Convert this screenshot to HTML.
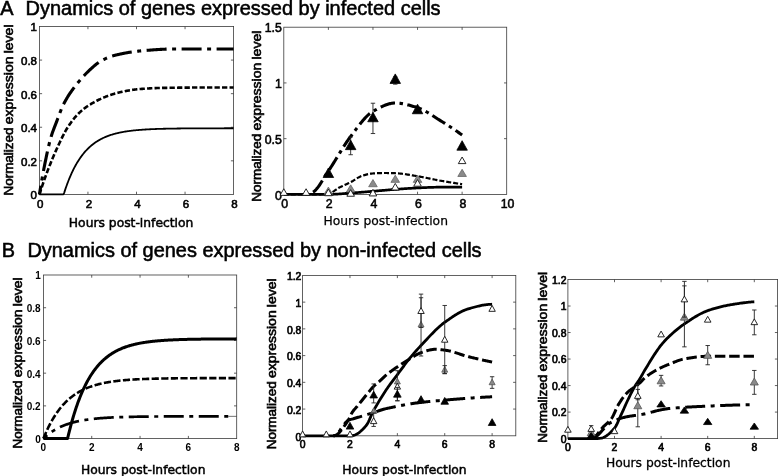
<!DOCTYPE html>
<html><head><meta charset="utf-8"><title>Dynamics of genes</title>
<style>html,body{margin:0;padding:0;background:#fff}svg{display:block}</style></head>
<body><svg width="778" height="476" viewBox="0 0 778 476">
<rect width="778" height="476" fill="#fff"/>
<defs><filter id="soft" x="0" y="0" width="778" height="476" filterUnits="userSpaceOnUse"><feGaussianBlur stdDeviation="0.38"/></filter></defs>
<g filter="url(#soft)">
<text x="0.3" y="14.8" font-family="Liberation Sans, sans-serif" font-size="19.9" stroke="#000" stroke-width="0.55">A</text>
<text x="25.6" y="14.8" font-family="Liberation Sans, sans-serif" font-size="19.9" stroke="#000" stroke-width="0.55" textLength="415" lengthAdjust="spacingAndGlyphs">Dynamics of genes expressed by infected cells</text>
<text x="1.8" y="256.6" font-family="Liberation Sans, sans-serif" font-size="19.9" stroke="#000" stroke-width="0.55">B</text>
<text x="27.4" y="256.6" font-family="Liberation Sans, sans-serif" font-size="19.9" stroke="#000" stroke-width="0.55" textLength="454.2" lengthAdjust="spacingAndGlyphs">Dynamics of genes expressed by non-infected cells</text>
<rect x="39.40" y="26.50" width="194.20" height="167.90" fill="#fff" stroke="#3a3a3a" stroke-width="0.8"/>
<path d="M87.95 194.40v-2.7M87.95 26.50v2.7M136.50 194.40v-2.7M136.50 26.50v2.7M185.05 194.40v-2.7M185.05 26.50v2.7M39.40 160.82h2.7M233.60 160.82h-2.7M39.40 127.24h2.7M233.60 127.24h-2.7M39.40 93.66h2.7M233.60 93.66h-2.7M39.40 60.08h2.7M233.60 60.08h-2.7" stroke="#3a3a3a" stroke-width="0.8" fill="none"/>
<g font-family="Liberation Sans, sans-serif" font-size="11.5" font-weight="normal" fill="#000" stroke="#000" stroke-width="0.6">
<text x="40.30" y="208.10" text-anchor="middle">0</text>
<text x="88.85" y="208.10" text-anchor="middle">2</text>
<text x="137.40" y="208.10" text-anchor="middle">4</text>
<text x="185.95" y="208.10" text-anchor="middle">6</text>
<text x="234.50" y="208.10" text-anchor="middle">8</text>
<text x="37.00" y="199.34" text-anchor="end">0</text>
<text x="37.00" y="165.76" text-anchor="end">0.2</text>
<text x="37.00" y="132.18" text-anchor="end">0.4</text>
<text x="37.00" y="98.60" text-anchor="end">0.6</text>
<text x="37.00" y="65.02" text-anchor="end">0.8</text>
<text x="37.00" y="31.44" text-anchor="end">1</text>
</g>
<polyline points="39.40,194.40 39.89,191.42 40.37,188.48 40.86,185.60 41.35,182.76 41.83,179.97 42.32,177.24 42.81,174.55 43.29,171.92 43.78,169.34 44.27,166.82 44.75,164.35 45.24,161.93 45.73,159.57 46.21,157.22 46.70,154.90 47.19,152.62 47.67,150.38 48.16,148.19 48.65,146.07 49.13,144.03 49.62,142.08 50.11,140.22 50.59,138.47 51.08,136.83 51.57,135.28 52.05,133.79 52.54,132.36 53.03,130.99 53.51,129.66 54.00,128.36 54.49,127.10 54.97,125.85 55.46,124.61 55.95,123.37 56.44,122.12 56.92,120.86 57.41,119.57 57.90,118.26 58.38,116.95 58.87,115.63 59.36,114.32 59.84,113.01 60.33,111.73 60.82,110.48 61.30,109.25 61.79,108.07 62.28,106.94 62.76,105.86 63.25,104.84 63.74,103.88 64.22,102.95 64.71,102.04 65.20,101.14 65.68,100.27 66.17,99.42 66.66,98.59 67.14,97.77 67.63,96.97 68.12,96.19 68.60,95.43 69.09,94.67 69.58,93.94 70.06,93.21 70.55,92.50 71.04,91.80 71.52,91.11 72.01,90.43 72.50,89.76 72.98,89.09 73.47,88.44 73.96,87.79 74.44,87.15 74.93,86.51 75.42,85.88 75.90,85.25 76.39,84.64 76.88,84.02 77.36,83.42 77.85,82.81 78.34,82.22 78.82,81.63 79.31,81.05 79.80,80.47 80.28,79.90 80.77,79.33 81.26,78.77 81.74,78.22 82.23,77.67 82.72,77.13 83.20,76.59 83.69,76.06 84.18,75.54 84.66,75.02 85.15,74.50 85.64,74.00 86.12,73.50 86.61,73.00 87.10,72.51 87.58,72.03 88.07,71.55 88.56,71.08 89.05,70.61 89.53,70.15 90.02,69.69 90.51,69.24 90.99,68.80 91.48,68.36 91.97,67.92 92.45,67.49 92.94,67.05 93.43,66.62 93.91,66.20 94.40,65.77 94.89,65.36 95.37,64.95 95.86,64.55 96.35,64.15 96.83,63.77 97.32,63.39 97.81,63.03 98.29,62.67 98.78,62.33 99.27,62.00 99.75,61.69 100.24,61.39 100.73,61.10 101.21,60.84 101.70,60.57 102.19,60.32 102.67,60.06 103.16,59.81 103.65,59.57 104.13,59.33 104.62,59.09 105.11,58.86 105.59,58.64 106.08,58.42 106.57,58.20 107.05,57.99 107.54,57.78 108.03,57.58 108.51,57.38 109.00,57.19 109.49,57.01 109.97,56.83 110.46,56.65 110.95,56.48 111.43,56.32 111.92,56.16 112.41,56.01 112.89,55.86 113.38,55.72 113.87,55.58 114.35,55.45 114.84,55.33 115.33,55.21 115.81,55.09 116.30,54.97 116.79,54.86 117.27,54.74 117.76,54.63 118.25,54.52 118.73,54.40 119.22,54.29 119.71,54.19 120.19,54.08 120.68,53.97 121.17,53.87 121.66,53.77 122.14,53.67 122.63,53.57 123.12,53.47 123.60,53.37 124.09,53.28 124.58,53.18 125.06,53.09 125.55,53.00 126.04,52.91 126.52,52.82 127.01,52.74 127.50,52.65 127.98,52.57 128.47,52.48 128.96,52.40 129.44,52.32 129.93,52.25 130.42,52.17 130.90,52.10 131.39,52.02 131.88,51.95 132.36,51.88 132.85,51.81 133.34,51.74 133.82,51.68 134.31,51.61 134.80,51.55 135.28,51.49 135.77,51.43 136.26,51.37 136.74,51.31 137.23,51.26 137.72,51.20 138.20,51.15 138.69,51.10 139.18,51.05 139.66,51.00 140.15,50.95 140.64,50.91 141.12,50.87 141.61,50.82 142.10,50.78 142.58,50.74 143.07,50.70 143.56,50.66 144.04,50.61 144.53,50.57 145.02,50.53 145.50,50.49 145.99,50.45 146.48,50.41 146.96,50.37 147.45,50.33 147.94,50.29 148.42,50.25 148.91,50.21 149.40,50.17 149.88,50.13 150.37,50.09 150.86,50.05 151.34,50.01 151.83,49.98 152.32,49.94 152.81,49.90 153.29,49.87 153.78,49.83 154.27,49.80 154.75,49.76 155.24,49.73 155.73,49.70 156.21,49.66 156.70,49.63 157.19,49.60 157.67,49.57 158.16,49.54 158.65,49.51 159.13,49.48 159.62,49.45 160.11,49.42 160.59,49.39 161.08,49.37 161.57,49.34 162.05,49.32 162.54,49.29 163.03,49.27 163.51,49.25 164.00,49.23 164.49,49.20 164.97,49.19 165.46,49.17 165.95,49.15 166.43,49.13 166.92,49.11 167.41,49.10 167.89,49.09 168.38,49.07 168.87,49.06 169.35,49.05 169.84,49.04 170.33,49.03 170.81,49.02 171.30,49.02 171.79,49.01 172.27,49.01 172.76,49.00 173.25,49.00 173.73,49.00 174.22,49.00 174.71,49.00 175.19,49.00 175.68,49.00 176.17,49.00 176.65,49.00 177.14,49.00 177.63,49.00 178.11,49.00 178.60,49.00 179.09,49.00 179.57,49.00 180.06,49.00 180.55,49.00 181.03,49.00 181.52,49.00 182.01,49.00 182.49,49.00 182.98,49.00 183.47,49.00 183.95,49.00 184.44,49.00 184.93,49.00 185.42,49.00 185.90,49.00 186.39,49.00 186.88,49.00 187.36,49.00 187.85,49.00 188.34,49.00 188.82,49.00 189.31,49.00 189.80,49.00 190.28,49.00 190.77,49.00 191.26,49.00 191.74,49.00 192.23,49.00 192.72,49.00 193.20,49.00 193.69,49.00 194.18,49.00 194.66,49.00 195.15,49.00 195.64,49.00 196.12,49.00 196.61,49.00 197.10,49.00 197.58,49.00 198.07,49.00 198.56,49.00 199.04,49.00 199.53,49.00 200.02,49.00 200.50,49.00 200.99,49.00 201.48,49.00 201.96,49.00 202.45,49.00 202.94,49.00 203.42,49.00 203.91,49.00 204.40,49.00 204.88,49.00 205.37,49.00 205.86,49.00 206.34,49.00 206.83,49.00 207.32,49.00 207.80,49.00 208.29,49.00 208.78,49.00 209.26,49.00 209.75,49.00 210.24,49.00 210.72,49.00 211.21,49.00 211.70,49.00 212.18,49.00 212.67,49.00 213.16,49.00 213.64,49.00 214.13,49.00 214.62,49.00 215.10,49.00 215.59,49.00 216.08,49.00 216.56,49.00 217.05,49.00 217.54,49.00 218.03,49.00 218.51,49.00 219.00,49.00 219.49,49.00 219.97,49.00 220.46,49.00 220.95,49.00 221.43,49.00 221.92,49.00 222.41,49.00 222.89,49.00 223.38,49.00 223.87,49.00 224.35,49.00 224.84,49.00 225.33,49.00 225.81,49.00 226.30,49.00 226.79,49.00 227.27,49.00 227.76,49.00 228.25,49.00 228.73,49.00 229.22,49.00 229.71,49.00 230.19,49.00 230.68,49.00 231.17,49.00 231.65,49.00 232.14,49.00 232.63,49.00 233.11,49.00 233.60,49.00" fill="none" stroke="#000" stroke-width="3.1" stroke-dasharray="20 5.5 4 5.5" stroke-dashoffset="11.32" stroke-linecap="butt" stroke-linejoin="round"/>
<polyline points="39.40,194.40 39.89,192.90 40.37,191.41 40.86,189.93 41.35,188.46 41.83,187.01 42.32,185.57 42.81,184.14 43.29,182.73 43.78,181.33 44.27,179.94 44.75,178.57 45.24,177.21 45.73,175.86 46.21,174.53 46.70,173.22 47.19,171.92 47.67,170.63 48.16,169.37 48.65,168.11 49.13,166.86 49.62,165.63 50.11,164.41 50.59,163.20 51.08,162.00 51.57,160.81 52.05,159.63 52.54,158.46 53.03,157.31 53.51,156.17 54.00,155.04 54.49,153.92 54.97,152.81 55.46,151.72 55.95,150.63 56.44,149.56 56.92,148.50 57.41,147.45 57.90,146.40 58.38,145.35 58.87,144.30 59.36,143.26 59.84,142.22 60.33,141.19 60.82,140.17 61.30,139.16 61.79,138.15 62.28,137.17 62.76,136.19 63.25,135.23 63.74,134.28 64.22,133.36 64.71,132.45 65.20,131.56 65.68,130.69 66.17,129.85 66.66,129.03 67.14,128.23 67.63,127.47 68.12,126.72 68.60,125.98 69.09,125.25 69.58,124.53 70.06,123.83 70.55,123.13 71.04,122.45 71.52,121.78 72.01,121.13 72.50,120.48 72.98,119.85 73.47,119.23 73.96,118.62 74.44,118.03 74.93,117.45 75.42,116.88 75.90,116.33 76.39,115.78 76.88,115.26 77.36,114.74 77.85,114.24 78.34,113.76 78.82,113.28 79.31,112.81 79.80,112.36 80.28,111.90 80.77,111.46 81.26,111.03 81.74,110.60 82.23,110.18 82.72,109.77 83.20,109.37 83.69,108.98 84.18,108.59 84.66,108.21 85.15,107.85 85.64,107.48 86.12,107.13 86.61,106.79 87.10,106.45 87.58,106.12 88.07,105.80 88.56,105.49 89.05,105.18 89.53,104.88 90.02,104.58 90.51,104.29 90.99,103.99 91.48,103.70 91.97,103.42 92.45,103.14 92.94,102.86 93.43,102.58 93.91,102.31 94.40,102.04 94.89,101.77 95.37,101.51 95.86,101.25 96.35,101.00 96.83,100.75 97.32,100.50 97.81,100.25 98.29,100.01 98.78,99.77 99.27,99.53 99.75,99.30 100.24,99.07 100.73,98.85 101.21,98.63 101.70,98.41 102.19,98.19 102.67,97.98 103.16,97.77 103.65,97.56 104.13,97.36 104.62,97.16 105.11,96.97 105.59,96.77 106.08,96.59 106.57,96.40 107.05,96.22 107.54,96.04 108.03,95.86 108.51,95.69 109.00,95.51 109.49,95.34 109.97,95.17 110.46,95.01 110.95,94.84 111.43,94.68 111.92,94.52 112.41,94.36 112.89,94.21 113.38,94.05 113.87,93.90 114.35,93.76 114.84,93.61 115.33,93.47 115.81,93.33 116.30,93.19 116.79,93.06 117.27,92.92 117.76,92.79 118.25,92.67 118.73,92.55 119.22,92.43 119.71,92.31 120.19,92.19 120.68,92.08 121.17,91.98 121.66,91.87 122.14,91.77 122.63,91.67 123.12,91.57 123.60,91.47 124.09,91.37 124.58,91.28 125.06,91.18 125.55,91.09 126.04,90.99 126.52,90.90 127.01,90.81 127.50,90.72 127.98,90.63 128.47,90.54 128.96,90.45 129.44,90.37 129.93,90.29 130.42,90.21 130.90,90.13 131.39,90.05 131.88,89.97 132.36,89.90 132.85,89.83 133.34,89.76 133.82,89.69 134.31,89.63 134.80,89.56 135.28,89.50 135.77,89.44 136.26,89.39 136.74,89.33 137.23,89.28 137.72,89.23 138.20,89.19 138.69,89.15 139.18,89.11 139.66,89.07 140.15,89.03 140.64,88.99 141.12,88.95 141.61,88.92 142.10,88.88 142.58,88.84 143.07,88.81 143.56,88.77 144.04,88.74 144.53,88.70 145.02,88.67 145.50,88.64 145.99,88.61 146.48,88.58 146.96,88.54 147.45,88.51 147.94,88.49 148.42,88.46 148.91,88.43 149.40,88.40 149.88,88.37 150.37,88.35 150.86,88.32 151.34,88.30 151.83,88.27 152.32,88.25 152.81,88.23 153.29,88.20 153.78,88.18 154.27,88.16 154.75,88.14 155.24,88.12 155.73,88.10 156.21,88.09 156.70,88.07 157.19,88.05 157.67,88.04 158.16,88.02 158.65,88.01 159.13,87.99 159.62,87.98 160.11,87.97 160.59,87.96 161.08,87.94 161.57,87.93 162.05,87.92 162.54,87.91 163.03,87.90 163.51,87.89 164.00,87.88 164.49,87.87 164.97,87.86 165.46,87.86 165.95,87.85 166.43,87.84 166.92,87.83 167.41,87.82 167.89,87.81 168.38,87.80 168.87,87.80 169.35,87.79 169.84,87.78 170.33,87.77 170.81,87.76 171.30,87.76 171.79,87.75 172.27,87.74 172.76,87.74 173.25,87.73 173.73,87.72 174.22,87.72 174.71,87.71 175.19,87.70 175.68,87.70 176.17,87.69 176.65,87.69 177.14,87.68 177.63,87.68 178.11,87.67 178.60,87.67 179.09,87.66 179.57,87.66 180.06,87.65 180.55,87.65 181.03,87.64 181.52,87.64 182.01,87.64 182.49,87.63 182.98,87.63 183.47,87.63 183.95,87.62 184.44,87.62 184.93,87.62 185.42,87.61 185.90,87.61 186.39,87.61 186.88,87.60 187.36,87.60 187.85,87.60 188.34,87.60 188.82,87.59 189.31,87.59 189.80,87.59 190.28,87.59 190.77,87.58 191.26,87.58 191.74,87.58 192.23,87.57 192.72,87.57 193.20,87.57 193.69,87.57 194.18,87.56 194.66,87.56 195.15,87.56 195.64,87.56 196.12,87.55 196.61,87.55 197.10,87.55 197.58,87.55 198.07,87.54 198.56,87.54 199.04,87.54 199.53,87.54 200.02,87.54 200.50,87.53 200.99,87.53 201.48,87.53 201.96,87.53 202.45,87.52 202.94,87.52 203.42,87.52 203.91,87.52 204.40,87.52 204.88,87.51 205.37,87.51 205.86,87.51 206.34,87.51 206.83,87.51 207.32,87.50 207.80,87.50 208.29,87.50 208.78,87.50 209.26,87.50 209.75,87.49 210.24,87.49 210.72,87.49 211.21,87.49 211.70,87.49 212.18,87.49 212.67,87.48 213.16,87.48 213.64,87.48 214.13,87.48 214.62,87.48 215.10,87.48 215.59,87.47 216.08,87.47 216.56,87.47 217.05,87.47 217.54,87.47 218.03,87.47 218.51,87.47 219.00,87.47 219.49,87.46 219.97,87.46 220.46,87.46 220.95,87.46 221.43,87.46 221.92,87.46 222.41,87.46 222.89,87.46 223.38,87.46 223.87,87.46 224.35,87.46 224.84,87.45 225.33,87.45 225.81,87.45 226.30,87.45 226.79,87.45 227.27,87.45 227.76,87.45 228.25,87.45 228.73,87.45 229.22,87.45 229.71,87.45 230.19,87.45 230.68,87.45 231.17,87.45 231.65,87.45 232.14,87.45 232.63,87.45 233.11,87.45 233.60,87.45" fill="none" stroke="#000" stroke-width="2.6" stroke-dasharray="5.3 2.2" stroke-linecap="butt" stroke-linejoin="round"/>
<polyline points="39.40,194.40 40.05,194.40 40.70,194.40 41.35,194.40 42.00,194.40 42.65,194.40 43.30,194.40 43.95,194.40 44.60,194.40 45.25,194.40 45.89,194.40 46.54,194.40 47.19,194.40 47.84,194.40 48.49,194.40 49.14,194.40 49.79,194.40 50.44,194.40 51.09,194.40 51.74,194.40 52.39,194.40 53.04,194.40 53.69,194.40 54.34,194.40 54.99,194.40 55.64,194.40 56.29,194.40 56.94,194.40 57.59,194.40 58.24,194.40 58.88,194.40 59.53,194.40 60.18,194.40 60.83,194.40 61.48,194.40 62.13,194.40 62.78,194.40 63.43,194.40 64.08,193.11 64.73,191.10 65.38,189.15 66.03,187.27 66.68,185.44 67.33,183.67 67.98,181.95 68.63,180.28 69.28,178.67 69.93,177.11 70.58,175.59 71.23,174.13 71.87,172.71 72.52,171.33 73.17,169.99 73.82,168.70 74.47,167.45 75.12,166.23 75.77,165.05 76.42,163.91 77.07,162.81 77.72,161.74 78.37,160.70 79.02,159.69 79.67,158.72 80.32,157.78 80.97,156.86 81.62,155.97 82.27,155.12 82.92,154.28 83.57,153.48 84.22,152.69 84.86,151.94 85.51,151.20 86.16,150.49 86.81,149.80 87.46,149.13 88.11,148.49 88.76,147.86 89.41,147.25 90.06,146.66 90.71,146.09 91.36,145.54 92.01,145.00 92.66,144.48 93.31,143.98 93.96,143.49 94.61,143.02 95.26,142.56 95.91,142.12 96.56,141.69 97.21,141.27 97.85,140.87 98.50,140.48 99.15,140.10 99.80,139.73 100.45,139.38 101.10,139.03 101.75,138.70 102.40,138.37 103.05,138.06 103.70,137.76 104.35,137.46 105.00,137.18 105.65,136.90 106.30,136.63 106.95,136.37 107.60,136.12 108.25,135.88 108.90,135.64 109.55,135.41 110.20,135.19 110.84,134.97 111.49,134.76 112.14,134.56 112.79,134.37 113.44,134.18 114.09,133.99 114.74,133.82 115.39,133.64 116.04,133.48 116.69,133.31 117.34,133.16 117.99,133.00 118.64,132.86 119.29,132.71 119.94,132.58 120.59,132.44 121.24,132.31 121.89,132.19 122.54,132.06 123.19,131.95 123.83,131.83 124.48,131.72 125.13,131.61 125.78,131.51 126.43,131.41 127.08,131.31 127.73,131.21 128.38,131.12 129.03,131.03 129.68,130.95 130.33,130.86 130.98,130.78 131.63,130.70 132.28,130.63 132.93,130.55 133.58,130.48 134.23,130.41 134.88,130.35 135.53,130.28 136.18,130.22 136.82,130.16 137.47,130.10 138.12,130.04 138.77,129.98 139.42,129.93 140.07,129.88 140.72,129.83 141.37,129.78 142.02,129.73 142.67,129.69 143.32,129.64 143.97,129.60 144.62,129.56 145.27,129.52 145.92,129.48 146.57,129.44 147.22,129.40 147.87,129.37 148.52,129.33 149.17,129.30 149.81,129.26 150.46,129.23 151.11,129.20 151.76,129.17 152.41,129.14 153.06,129.12 153.71,129.09 154.36,129.06 155.01,129.04 155.66,129.01 156.31,128.99 156.96,128.97 157.61,128.94 158.26,128.92 158.91,128.90 159.56,128.88 160.21,128.86 160.86,128.84 161.51,128.82 162.16,128.81 162.80,128.79 163.45,128.77 164.10,128.76 164.75,128.74 165.40,128.73 166.05,128.71 166.70,128.70 167.35,128.68 168.00,128.67 168.65,128.66 169.30,128.64 169.95,128.63 170.60,128.62 171.25,128.61 171.90,128.60 172.55,128.59 173.20,128.58 173.85,128.56 174.50,128.56 175.15,128.55 175.79,128.54 176.44,128.53 177.09,128.52 177.74,128.51 178.39,128.50 179.04,128.49 179.69,128.49 180.34,128.48 180.99,128.47 181.64,128.46 182.29,128.46 182.94,128.45 183.59,128.45 184.24,128.44 184.89,128.43 185.54,128.43 186.19,128.42 186.84,128.42 187.49,128.41 188.14,128.41 188.78,128.40 189.43,128.40 190.08,128.39 190.73,128.39 191.38,128.38 192.03,128.38 192.68,128.37 193.33,128.37 193.98,128.37 194.63,128.36 195.28,128.36 195.93,128.36 196.58,128.35 197.23,128.35 197.88,128.35 198.53,128.34 199.18,128.34 199.83,128.34 200.48,128.33 201.13,128.33 201.77,128.33 202.42,128.33 203.07,128.32 203.72,128.32 204.37,128.32 205.02,128.32 205.67,128.32 206.32,128.31 206.97,128.31 207.62,128.31 208.27,128.31 208.92,128.31 209.57,128.30 210.22,128.30 210.87,128.30 211.52,128.30 212.17,128.30 212.82,128.30 213.47,128.29 214.12,128.29 214.76,128.29 215.41,128.29 216.06,128.29 216.71,128.29 217.36,128.29 218.01,128.28 218.66,128.28 219.31,128.28 219.96,128.28 220.61,128.28 221.26,128.28 221.91,128.28 222.56,128.28 223.21,128.28 223.86,128.28 224.51,128.27 225.16,128.27 225.81,128.27 226.46,128.27 227.11,128.27 227.75,128.27 228.40,128.27 229.05,128.27 229.70,128.27 230.35,128.27 231.00,128.27 231.65,128.27 232.30,128.27 232.95,128.27 233.60,128.26" fill="none" stroke="#000" stroke-width="1.8" stroke-linejoin="round"/>
<text x="131.10" y="227.10" text-anchor="middle" font-family="DejaVu Sans, sans-serif" font-size="12.3" stroke="#000" stroke-width="0.5" textLength="124.5" lengthAdjust="spacingAndGlyphs">Hours post-infection</text>
<g font-family="Liberation Sans, sans-serif" font-size="12.85" stroke="#000" stroke-width="0.6" fill="#000">
<text transform="translate(13.30 195.50) rotate(-90)" textLength="67.96" lengthAdjust="spacingAndGlyphs">Normalized</text>
<text transform="translate(13.30 124.29) rotate(-90)" textLength="67.80" lengthAdjust="spacingAndGlyphs">expression</text>
<text transform="translate(13.30 53.34) rotate(-90)" textLength="28.89" lengthAdjust="spacingAndGlyphs">level</text>
</g>
<rect x="283.80" y="27.20" width="222.90" height="167.20" fill="#fff" stroke="#3a3a3a" stroke-width="0.8"/>
<path d="M328.38 194.40v-2.7M328.38 27.20v2.7M372.96 194.40v-2.7M372.96 27.20v2.7M417.54 194.40v-2.7M417.54 27.20v2.7M462.12 194.40v-2.7M462.12 27.20v2.7M283.80 138.67h2.7M506.70 138.67h-2.7M283.80 82.93h2.7M506.70 82.93h-2.7" stroke="#3a3a3a" stroke-width="0.8" fill="none"/>
<g font-family="Liberation Sans, sans-serif" font-size="12.3" font-weight="normal" fill="#000" stroke="#000" stroke-width="0.55">
<text x="284.70" y="208.00" text-anchor="middle">0</text>
<text x="329.28" y="208.00" text-anchor="middle">2</text>
<text x="373.86" y="208.00" text-anchor="middle">4</text>
<text x="418.44" y="208.00" text-anchor="middle">6</text>
<text x="463.02" y="208.00" text-anchor="middle">8</text>
<text x="507.60" y="208.00" text-anchor="middle">10</text>
<text x="281.80" y="199.63" text-anchor="end">0</text>
<text x="281.80" y="143.89" text-anchor="end">0.5</text>
<text x="281.80" y="88.16" text-anchor="end">1</text>
<text x="281.80" y="32.43" text-anchor="end">1.5</text>
</g>
<polyline points="312.78,192.17 313.53,191.74 314.28,191.20 315.03,190.56 315.78,189.82 316.53,189.00 317.28,188.10 318.03,187.13 318.78,186.10 319.53,185.02 320.28,183.89 321.03,182.72 321.78,181.52 322.53,180.30 323.28,179.07 324.03,177.83 324.78,176.60 325.53,175.38 326.29,174.18 327.04,173.00 327.79,171.86 328.54,170.77 329.29,169.67 330.04,168.55 330.79,167.41 331.54,166.25 332.29,165.08 333.04,163.89 333.79,162.70 334.54,161.49 335.29,160.27 336.04,159.05 336.79,157.82 337.54,156.59 338.29,155.35 339.04,154.12 339.79,152.89 340.54,151.66 341.29,150.44 342.05,149.23 342.80,148.03 343.55,146.84 344.30,145.66 345.05,144.49 345.80,143.35 346.55,142.22 347.30,141.11 348.05,140.03 348.80,138.97 349.55,137.93 350.30,136.92 351.05,135.94 351.80,134.95 352.55,133.96 353.30,132.96 354.05,131.95 354.80,130.95 355.55,129.94 356.30,128.94 357.05,127.94 357.81,126.95 358.56,125.96 359.31,124.99 360.06,124.03 360.81,123.08 361.56,122.15 362.31,121.23 363.06,120.34 363.81,119.47 364.56,118.62 365.31,117.80 366.06,117.01 366.81,116.24 367.56,115.51 368.31,114.81 369.06,114.15 369.81,113.52 370.56,112.94 371.31,112.40 372.06,111.89 372.81,111.44 373.56,111.02 374.32,110.60 375.07,110.18 375.82,109.76 376.57,109.35 377.32,108.94 378.07,108.53 378.82,108.14 379.57,107.75 380.32,107.37 381.07,107.00 381.82,106.64 382.57,106.29 383.32,105.95 384.07,105.62 384.82,105.31 385.57,105.02 386.32,104.74 387.07,104.48 387.82,104.23 388.57,104.01 389.32,103.80 390.08,103.62 390.83,103.46 391.58,103.32 392.33,103.20 393.08,103.11 393.83,103.05 394.58,103.01 395.33,103.00 396.08,103.01 396.83,103.03 397.58,103.07 398.33,103.13 399.08,103.20 399.83,103.28 400.58,103.38 401.33,103.48 402.08,103.60 402.83,103.73 403.58,103.87 404.33,104.02 405.08,104.18 405.83,104.35 406.59,104.53 407.34,104.72 408.09,104.91 408.84,105.10 409.59,105.31 410.34,105.52 411.09,105.73 411.84,105.95 412.59,106.17 413.34,106.40 414.09,106.62 414.84,106.85 415.59,107.08 416.34,107.31 417.09,107.54 417.84,107.77 418.59,108.02 419.34,108.30 420.09,108.59 420.84,108.91 421.59,109.24 422.35,109.59 423.10,109.96 423.85,110.35 424.60,110.75 425.35,111.16 426.10,111.59 426.85,112.02 427.60,112.47 428.35,112.93 429.10,113.39 429.85,113.86 430.60,114.34 431.35,114.82 432.10,115.31 432.85,115.80 433.60,116.29 434.35,116.78 435.10,117.27 435.85,117.76 436.60,118.25 437.35,118.73 438.11,119.20 438.86,119.67 439.61,120.14 440.36,120.60 441.11,121.06 441.86,121.52 442.61,121.98 443.36,122.45 444.11,122.92 444.86,123.40 445.61,123.87 446.36,124.35 447.11,124.84 447.86,125.32 448.61,125.81 449.36,126.30 450.11,126.79 450.86,127.28 451.61,127.78 452.36,128.28 453.11,128.78 453.86,129.29 454.62,129.79 455.37,130.30 456.12,130.81 456.87,131.33 457.62,131.84 458.37,132.36 459.12,132.88 459.87,133.41 460.62,133.93 461.37,134.46 462.12,134.99" fill="none" stroke="#000" stroke-width="3.1" stroke-dasharray="15 4.5 3.5 4.5" stroke-dashoffset="27.27" stroke-linecap="butt" stroke-linejoin="round"/>
<polyline points="283.80,194.40 284.70,194.40 285.59,194.40 286.49,194.40 287.38,194.40 288.28,194.40 289.18,194.40 290.07,194.40 290.97,194.40 291.86,194.40 292.76,194.40 293.66,194.40 294.55,194.40 295.45,194.40 296.35,194.40 297.24,194.40 298.14,194.40 299.03,194.40 299.93,194.40 300.83,194.40 301.72,194.40 302.62,194.40 303.51,194.40 304.41,194.40 305.31,194.40 306.20,194.40 307.10,194.40 307.99,194.40 308.89,194.40 309.79,194.40 310.68,194.40 311.58,194.40 312.47,194.40 313.37,194.40 314.27,194.40 315.16,194.40 316.06,194.40 316.95,194.40 317.85,194.40 318.75,194.38 319.64,194.34 320.54,194.30 321.44,194.25 322.33,194.19 323.23,194.12 324.12,194.05 325.02,193.96 325.92,193.84 326.81,193.70 327.71,193.53 328.60,193.33 329.50,193.12 330.40,192.88 331.29,192.56 332.19,192.13 333.08,191.62 333.98,191.06 334.88,190.45 335.77,189.83 336.67,189.21 337.56,188.61 338.46,188.06 339.36,187.57 340.25,187.10 341.15,186.66 342.05,186.22 342.94,185.80 343.84,185.38 344.73,184.96 345.63,184.55 346.53,184.14 347.42,183.72 348.32,183.30 349.21,182.87 350.11,182.42 351.01,181.96 351.90,181.47 352.80,180.95 353.69,180.40 354.59,179.84 355.49,179.28 356.38,178.72 357.28,178.17 358.17,177.64 359.07,177.15 359.97,176.69 360.86,176.27 361.76,175.92 362.66,175.62 363.55,175.35 364.45,175.09 365.34,174.85 366.24,174.61 367.14,174.39 368.03,174.18 368.93,173.99 369.82,173.83 370.72,173.69 371.62,173.57 372.51,173.48 373.41,173.41 374.30,173.36 375.20,173.30 376.10,173.25 376.99,173.20 377.89,173.16 378.78,173.12 379.68,173.08 380.58,173.05 381.47,173.03 382.37,173.01 383.26,173.00 384.16,173.00 385.06,173.00 385.95,173.01 386.85,173.02 387.75,173.03 388.64,173.04 389.54,173.06 390.43,173.08 391.33,173.10 392.23,173.13 393.12,173.16 394.02,173.18 394.91,173.21 395.81,173.24 396.71,173.28 397.60,173.34 398.50,173.41 399.39,173.48 400.29,173.57 401.19,173.67 402.08,173.77 402.98,173.88 403.87,174.00 404.77,174.13 405.67,174.26 406.56,174.40 407.46,174.54 408.36,174.68 409.25,174.83 410.15,174.98 411.04,175.14 411.94,175.29 412.84,175.44 413.73,175.60 414.63,175.75 415.52,175.90 416.42,176.05 417.32,176.20 418.21,176.34 419.11,176.49 420.00,176.65 420.90,176.81 421.80,176.97 422.69,177.15 423.59,177.32 424.48,177.50 425.38,177.68 426.28,177.86 427.17,178.04 428.07,178.23 428.97,178.42 429.86,178.61 430.76,178.79 431.65,178.98 432.55,179.16 433.45,179.35 434.34,179.53 435.24,179.71 436.13,179.89 437.03,180.06 437.93,180.23 438.82,180.40 439.72,180.56 440.61,180.72 441.51,180.87 442.41,181.03 443.30,181.18 444.20,181.33 445.09,181.49 445.99,181.64 446.89,181.79 447.78,181.93 448.68,182.08 449.57,182.23 450.47,182.37 451.37,182.52 452.26,182.66 453.16,182.80 454.06,182.94 454.95,183.08 455.85,183.22 456.74,183.35 457.64,183.49 458.54,183.62 459.43,183.76 460.33,183.89 461.22,184.02 462.12,184.15" fill="none" stroke="#000" stroke-width="2.2" stroke-dasharray="5 2" stroke-linecap="butt" stroke-linejoin="round"/>
<polyline points="283.80,194.40 284.70,194.40 285.59,194.40 286.49,194.40 287.38,194.40 288.28,194.40 289.18,194.40 290.07,194.40 290.97,194.40 291.86,194.40 292.76,194.40 293.66,194.40 294.55,194.40 295.45,194.40 296.35,194.40 297.24,194.40 298.14,194.40 299.03,194.40 299.93,194.40 300.83,194.40 301.72,194.40 302.62,194.40 303.51,194.40 304.41,194.40 305.31,194.40 306.20,194.40 307.10,194.40 307.99,194.40 308.89,194.40 309.79,194.40 310.68,194.40 311.58,194.40 312.47,194.40 313.37,194.40 314.27,194.40 315.16,194.40 316.06,194.40 316.95,194.40 317.85,194.40 318.75,194.40 319.64,194.40 320.54,194.40 321.44,194.40 322.33,194.40 323.23,194.40 324.12,194.40 325.02,194.40 325.92,194.40 326.81,194.40 327.71,194.40 328.60,194.40 329.50,194.39 330.40,194.38 331.29,194.36 332.19,194.33 333.08,194.30 333.98,194.26 334.88,194.22 335.77,194.17 336.67,194.12 337.56,194.06 338.46,194.00 339.36,193.93 340.25,193.87 341.15,193.80 342.05,193.73 342.94,193.66 343.84,193.59 344.73,193.52 345.63,193.44 346.53,193.37 347.42,193.30 348.32,193.23 349.21,193.17 350.11,193.10 351.01,193.04 351.90,192.98 352.80,192.91 353.69,192.85 354.59,192.78 355.49,192.71 356.38,192.64 357.28,192.57 358.17,192.50 359.07,192.43 359.97,192.36 360.86,192.29 361.76,192.21 362.66,192.14 363.55,192.07 364.45,191.99 365.34,191.92 366.24,191.84 367.14,191.77 368.03,191.69 368.93,191.61 369.82,191.54 370.72,191.46 371.62,191.39 372.51,191.32 373.41,191.24 374.30,191.17 375.20,191.09 376.10,191.01 376.99,190.94 377.89,190.86 378.78,190.78 379.68,190.70 380.58,190.62 381.47,190.54 382.37,190.46 383.26,190.38 384.16,190.30 385.06,190.22 385.95,190.14 386.85,190.07 387.75,189.99 388.64,189.91 389.54,189.84 390.43,189.76 391.33,189.69 392.23,189.62 393.12,189.55 394.02,189.48 394.91,189.41 395.81,189.34 396.71,189.28 397.60,189.21 398.50,189.14 399.39,189.08 400.29,189.01 401.19,188.95 402.08,188.88 402.98,188.82 403.87,188.76 404.77,188.69 405.67,188.63 406.56,188.57 407.46,188.51 408.36,188.45 409.25,188.39 410.15,188.34 411.04,188.28 411.94,188.23 412.84,188.18 413.73,188.13 414.63,188.08 415.52,188.03 416.42,187.99 417.32,187.95 418.21,187.90 419.11,187.86 420.00,187.82 420.90,187.78 421.80,187.74 422.69,187.70 423.59,187.66 424.48,187.62 425.38,187.58 426.28,187.54 427.17,187.50 428.07,187.47 428.97,187.43 429.86,187.40 430.76,187.37 431.65,187.33 432.55,187.31 433.45,187.28 434.34,187.25 435.24,187.23 436.13,187.21 437.03,187.19 437.93,187.18 438.82,187.17 439.72,187.16 440.61,187.15 441.51,187.14 442.41,187.13 443.30,187.13 444.20,187.12 445.09,187.11 445.99,187.11 446.89,187.10 447.78,187.09 448.68,187.09 449.57,187.08 450.47,187.08 451.37,187.07 452.26,187.07 453.16,187.06 454.06,187.06 454.95,187.06 455.85,187.05 456.74,187.05 457.64,187.05 458.54,187.05 459.43,187.05 460.33,187.04 461.22,187.04 462.12,187.04" fill="none" stroke="#000" stroke-width="2.7" stroke-linecap="butt" stroke-linejoin="round"/>
<path d="M328.38 187.10L332.68 194.30H324.08Z" fill="#8a8a8a" stroke="#666" stroke-width="0.8" stroke-linejoin="miter"/>
<path d="M350.67 184.87L354.97 192.07H346.37Z" fill="#8a8a8a" stroke="#666" stroke-width="0.8" stroke-linejoin="miter"/>
<path d="M372.96 179.52L377.26 186.72H368.66Z" fill="#8a8a8a" stroke="#666" stroke-width="0.8" stroke-linejoin="miter"/>
<path d="M395.25 175.17L399.55 182.37H390.95Z" fill="#8a8a8a" stroke="#666" stroke-width="0.8" stroke-linejoin="miter"/>
<path d="M417.54 175.17L421.84 182.37H413.24Z" fill="#8a8a8a" stroke="#666" stroke-width="0.8" stroke-linejoin="miter"/>
<path d="M462.12 169.26L466.42 176.46H457.82Z" fill="#8a8a8a" stroke="#666" stroke-width="0.8" stroke-linejoin="miter"/>
<path d="M283.80 188.76L287.60 195.36H280.00Z" fill="#fff" stroke="#111" stroke-width="0.9" stroke-linejoin="miter"/>
<path d="M306.09 188.76L309.89 195.36H302.29Z" fill="#fff" stroke="#111" stroke-width="0.9" stroke-linejoin="miter"/>
<path d="M328.38 189.10L332.18 195.70H324.58Z" fill="#fff" stroke="#111" stroke-width="0.9" stroke-linejoin="miter"/>
<path d="M350.67 189.66L354.47 196.26H346.87Z" fill="#fff" stroke="#111" stroke-width="0.9" stroke-linejoin="miter"/>
<path d="M372.96 189.32L376.76 195.92H369.16Z" fill="#fff" stroke="#111" stroke-width="0.9" stroke-linejoin="miter"/>
<path d="M395.25 183.41L399.05 190.01H391.45Z" fill="#fff" stroke="#111" stroke-width="0.9" stroke-linejoin="miter"/>
<path d="M417.54 179.62L421.34 186.22H413.74Z" fill="#fff" stroke="#111" stroke-width="0.9" stroke-linejoin="miter"/>
<path d="M462.12 157.00L465.92 163.60H458.32Z" fill="#fff" stroke="#111" stroke-width="0.9" stroke-linejoin="miter"/>
<path d="M328.38 168.00L333.63 177.50H323.13Z" fill="#000" stroke="#000" stroke-width="0.8" stroke-linejoin="miter"/>
<path d="M350.67 136.99V154.72M348.47 136.99h4.4M348.47 154.72h4.4" stroke="#222" stroke-width="0.9" fill="none"/>
<path d="M350.67 140.13L355.92 149.63H345.42Z" fill="#000" stroke="#000" stroke-width="0.8" stroke-linejoin="miter"/>
<path d="M372.96 103.22V133.54M370.76 103.22h4.4M370.76 133.54h4.4" stroke="#222" stroke-width="0.9" fill="none"/>
<path d="M372.96 112.26L378.21 121.76H367.71Z" fill="#000" stroke="#000" stroke-width="0.8" stroke-linejoin="miter"/>
<path d="M395.25 76.91V84.16M393.05 76.91h4.4M393.05 84.16h4.4" stroke="#222" stroke-width="0.9" fill="none"/>
<path d="M395.25 73.92L400.50 83.42H390.00Z" fill="#000" stroke="#000" stroke-width="0.8" stroke-linejoin="miter"/>
<path d="M417.54 104.24L422.79 113.74H412.29Z" fill="#000" stroke="#000" stroke-width="0.8" stroke-linejoin="miter"/>
<path d="M462.12 140.69L467.37 150.19H456.87Z" fill="#000" stroke="#000" stroke-width="0.8" stroke-linejoin="miter"/>
<text x="385.70" y="225.00" text-anchor="middle" font-family="DejaVu Sans, sans-serif" font-size="12.3" stroke="#000" stroke-width="0.25" textLength="124.5" lengthAdjust="spacingAndGlyphs">Hours post-infection</text>
<g font-family="Liberation Sans, sans-serif" font-size="12.85" stroke="#000" stroke-width="0.6" fill="#000">
<text transform="translate(261.40 201.70) rotate(-90)" textLength="67.96" lengthAdjust="spacingAndGlyphs">Normalized</text>
<text transform="translate(261.40 130.49) rotate(-90)" textLength="67.80" lengthAdjust="spacingAndGlyphs">expression</text>
<text transform="translate(261.40 59.54) rotate(-90)" textLength="28.89" lengthAdjust="spacingAndGlyphs">level</text>
</g>
<rect x="43.40" y="275.00" width="193.30" height="163.60" fill="#fff" stroke="#3a3a3a" stroke-width="0.8"/>
<path d="M91.72 438.60v-2.7M91.72 275.00v2.7M140.05 438.60v-2.7M140.05 275.00v2.7M188.38 438.60v-2.7M188.38 275.00v2.7M43.40 405.88h2.7M236.70 405.88h-2.7M43.40 373.16h2.7M236.70 373.16h-2.7M43.40 340.44h2.7M236.70 340.44h-2.7M43.40 307.72h2.7M236.70 307.72h-2.7" stroke="#3a3a3a" stroke-width="0.8" fill="none"/>
<g font-family="Liberation Sans, sans-serif" font-size="10" font-weight="bold" fill="#000">
<text x="43.40" y="450.80" text-anchor="middle">0</text>
<text x="91.72" y="450.80" text-anchor="middle">2</text>
<text x="140.05" y="450.80" text-anchor="middle">4</text>
<text x="188.38" y="450.80" text-anchor="middle">6</text>
<text x="236.70" y="450.80" text-anchor="middle">8</text>
<text x="40.70" y="443.00" text-anchor="end">0</text>
<text x="40.70" y="410.28" text-anchor="end">0.2</text>
<text x="40.70" y="377.56" text-anchor="end">0.4</text>
<text x="40.70" y="344.84" text-anchor="end">0.6</text>
<text x="40.70" y="312.12" text-anchor="end">0.8</text>
<text x="40.70" y="279.40" text-anchor="end">1</text>
</g>
<polyline points="43.40,438.60 44.05,438.60 44.69,438.60 45.34,438.60 45.99,438.60 46.63,438.60 47.28,438.60 47.93,438.60 48.57,438.60 49.22,438.60 49.86,438.60 50.51,438.60 51.16,438.60 51.80,438.60 52.45,438.60 53.10,438.60 53.74,438.60 54.39,438.60 55.04,438.60 55.68,438.60 56.33,438.60 56.98,438.60 57.62,438.60 58.27,438.60 58.92,438.60 59.56,438.60 60.21,438.60 60.86,438.60 61.50,438.60 62.15,438.60 62.79,438.60 63.44,438.60 64.09,438.60 64.73,438.60 65.38,438.60 66.03,438.60 66.67,438.60 67.32,438.60 67.97,436.88 68.61,434.18 69.26,431.56 69.91,429.01 70.55,426.53 71.20,424.12 71.85,421.77 72.49,419.49 73.14,417.28 73.78,415.12 74.43,413.02 75.08,410.98 75.72,409.00 76.37,407.07 77.02,405.19 77.66,403.37 78.31,401.59 78.96,399.87 79.60,398.19 80.25,396.56 80.90,394.97 81.54,393.43 82.19,391.92 82.84,390.46 83.48,389.04 84.13,387.66 84.78,386.32 85.42,385.01 86.07,383.74 86.71,382.51 87.36,381.31 88.01,380.14 88.65,379.00 89.30,377.90 89.95,376.82 90.59,375.78 91.24,374.76 91.89,373.77 92.53,372.81 93.18,371.88 93.83,370.97 94.47,370.09 95.12,369.23 95.77,368.39 96.41,367.58 97.06,366.79 97.71,366.02 98.35,365.27 99.00,364.54 99.64,363.83 100.29,363.15 100.94,362.48 101.58,361.83 102.23,361.19 102.88,360.58 103.52,359.98 104.17,359.40 104.82,358.83 105.46,358.28 106.11,357.75 106.76,357.22 107.40,356.72 108.05,356.23 108.70,355.75 109.34,355.28 109.99,354.83 110.63,354.39 111.28,353.96 111.93,353.54 112.57,353.14 113.22,352.74 113.87,352.36 114.51,351.99 115.16,351.63 115.81,351.27 116.45,350.93 117.10,350.60 117.75,350.27 118.39,349.96 119.04,349.65 119.69,349.35 120.33,349.06 120.98,348.78 121.63,348.51 122.27,348.24 122.92,347.98 123.56,347.73 124.21,347.48 124.86,347.24 125.50,347.01 126.15,346.79 126.80,346.57 127.44,346.35 128.09,346.15 128.74,345.95 129.38,345.75 130.03,345.56 130.68,345.37 131.32,345.19 131.97,345.02 132.62,344.85 133.26,344.68 133.91,344.52 134.55,344.36 135.20,344.21 135.85,344.06 136.49,343.92 137.14,343.77 137.79,343.64 138.43,343.51 139.08,343.38 139.73,343.25 140.37,343.13 141.02,343.01 141.67,342.89 142.31,342.78 142.96,342.67 143.61,342.57 144.25,342.46 144.90,342.36 145.55,342.26 146.19,342.17 146.84,342.08 147.48,341.99 148.13,341.90 148.78,341.81 149.42,341.73 150.07,341.65 150.72,341.57 151.36,341.50 152.01,341.42 152.66,341.35 153.30,341.28 153.95,341.21 154.60,341.15 155.24,341.08 155.89,341.02 156.54,340.96 157.18,340.90 157.83,340.84 158.47,340.79 159.12,340.73 159.77,340.68 160.41,340.63 161.06,340.58 161.71,340.53 162.35,340.48 163.00,340.43 163.65,340.39 164.29,340.35 164.94,340.30 165.59,340.26 166.23,340.22 166.88,340.18 167.53,340.15 168.17,340.11 168.82,340.07 169.47,340.04 170.11,340.00 170.76,339.97 171.40,339.94 172.05,339.91 172.70,339.88 173.34,339.85 173.99,339.82 174.64,339.79 175.28,339.76 175.93,339.74 176.58,339.71 177.22,339.69 177.87,339.66 178.52,339.64 179.16,339.62 179.81,339.59 180.46,339.57 181.10,339.55 181.75,339.53 182.39,339.51 183.04,339.49 183.69,339.47 184.33,339.45 184.98,339.44 185.63,339.42 186.27,339.40 186.92,339.39 187.57,339.37 188.21,339.35 188.86,339.34 189.51,339.32 190.15,339.31 190.80,339.30 191.45,339.28 192.09,339.27 192.74,339.26 193.39,339.24 194.03,339.23 194.68,339.22 195.32,339.21 195.97,339.20 196.62,339.19 197.26,339.18 197.91,339.17 198.56,339.16 199.20,339.15 199.85,339.14 200.50,339.13 201.14,339.12 201.79,339.11 202.44,339.10 203.08,339.09 203.73,339.09 204.38,339.08 205.02,339.07 205.67,339.06 206.32,339.06 206.96,339.05 207.61,339.04 208.25,339.04 208.90,339.03 209.55,339.02 210.19,339.02 210.84,339.01 211.49,339.01 212.13,339.00 212.78,338.99 213.43,338.99 214.07,338.98 214.72,338.98 215.37,338.97 216.01,338.97 216.66,338.97 217.31,338.96 217.95,338.96 218.60,338.95 219.24,338.95 219.89,338.94 220.54,338.94 221.18,338.94 221.83,338.93 222.48,338.93 223.12,338.93 223.77,338.92 224.42,338.92 225.06,338.92 225.71,338.91 226.36,338.91 227.00,338.91 227.65,338.90 228.30,338.90 228.94,338.90 229.59,338.90 230.24,338.89 230.88,338.89 231.53,338.89 232.17,338.89 232.82,338.88 233.47,338.88 234.11,338.88 234.76,338.88 235.41,338.88 236.05,338.87 236.70,338.87" fill="none" stroke="#000" stroke-width="3.0" stroke-linejoin="round"/>
<polyline points="43.40,438.60 44.05,437.00 44.69,435.45 45.34,433.93 45.99,432.46 46.63,431.02 47.28,429.62 47.93,428.26 48.57,426.94 49.22,425.65 49.86,424.39 50.51,423.17 51.16,421.98 51.80,420.82 52.45,419.69 53.10,418.59 53.74,417.52 54.39,416.48 55.04,415.46 55.68,414.48 56.33,413.52 56.98,412.58 57.62,411.67 58.27,410.78 58.92,409.92 59.56,409.08 60.21,408.26 60.86,407.46 61.50,406.69 62.15,405.93 62.79,405.19 63.44,404.48 64.09,403.78 64.73,403.10 65.38,402.44 66.03,401.80 66.67,401.17 67.32,400.56 67.97,399.97 68.61,399.39 69.26,398.83 69.91,398.28 70.55,397.74 71.20,397.23 71.85,396.72 72.49,396.23 73.14,395.75 73.78,395.28 74.43,394.83 75.08,394.38 75.72,393.95 76.37,393.53 77.02,393.13 77.66,392.73 78.31,392.34 78.96,391.96 79.60,391.60 80.25,391.24 80.90,390.89 81.54,390.55 82.19,390.22 82.84,389.90 83.48,389.59 84.13,389.29 84.78,388.99 85.42,388.70 86.07,388.42 86.71,388.15 87.36,387.88 88.01,387.62 88.65,387.37 89.30,387.12 89.95,386.89 90.59,386.65 91.24,386.43 91.89,386.21 92.53,385.99 93.18,385.78 93.83,385.58 94.47,385.38 95.12,385.19 95.77,385.00 96.41,384.82 97.06,384.64 97.71,384.46 98.35,384.30 99.00,384.13 99.64,383.97 100.29,383.81 100.94,383.66 101.58,383.52 102.23,383.37 102.88,383.23 103.52,383.10 104.17,382.96 104.82,382.83 105.46,382.71 106.11,382.59 106.76,382.47 107.40,382.35 108.05,382.24 108.70,382.13 109.34,382.02 109.99,381.92 110.63,381.81 111.28,381.71 111.93,381.62 112.57,381.52 113.22,381.43 113.87,381.34 114.51,381.26 115.16,381.17 115.81,381.09 116.45,381.01 117.10,380.93 117.75,380.86 118.39,380.78 119.04,380.71 119.69,380.64 120.33,380.58 120.98,380.51 121.63,380.44 122.27,380.38 122.92,380.32 123.56,380.26 124.21,380.20 124.86,380.15 125.50,380.09 126.15,380.04 126.80,379.99 127.44,379.94 128.09,379.89 128.74,379.84 129.38,379.79 130.03,379.75 130.68,379.70 131.32,379.66 131.97,379.62 132.62,379.58 133.26,379.54 133.91,379.50 134.55,379.46 135.20,379.42 135.85,379.39 136.49,379.35 137.14,379.32 137.79,379.29 138.43,379.25 139.08,379.22 139.73,379.19 140.37,379.16 141.02,379.13 141.67,379.10 142.31,379.08 142.96,379.05 143.61,379.02 144.25,379.00 144.90,378.98 145.55,378.95 146.19,378.93 146.84,378.91 147.48,378.88 148.13,378.86 148.78,378.84 149.42,378.82 150.07,378.80 150.72,378.78 151.36,378.76 152.01,378.74 152.66,378.73 153.30,378.71 153.95,378.69 154.60,378.68 155.24,378.66 155.89,378.64 156.54,378.63 157.18,378.61 157.83,378.60 158.47,378.59 159.12,378.57 159.77,378.56 160.41,378.55 161.06,378.53 161.71,378.52 162.35,378.51 163.00,378.50 163.65,378.49 164.29,378.47 164.94,378.46 165.59,378.45 166.23,378.44 166.88,378.43 167.53,378.42 168.17,378.41 168.82,378.41 169.47,378.40 170.11,378.39 170.76,378.38 171.40,378.37 172.05,378.36 172.70,378.36 173.34,378.35 173.99,378.34 174.64,378.33 175.28,378.33 175.93,378.32 176.58,378.31 177.22,378.31 177.87,378.30 178.52,378.29 179.16,378.29 179.81,378.28 180.46,378.28 181.10,378.27 181.75,378.27 182.39,378.26 183.04,378.26 183.69,378.25 184.33,378.25 184.98,378.24 185.63,378.24 186.27,378.23 186.92,378.23 187.57,378.22 188.21,378.22 188.86,378.22 189.51,378.21 190.15,378.21 190.80,378.20 191.45,378.20 192.09,378.20 192.74,378.19 193.39,378.19 194.03,378.19 194.68,378.18 195.32,378.18 195.97,378.18 196.62,378.17 197.26,378.17 197.91,378.17 198.56,378.17 199.20,378.16 199.85,378.16 200.50,378.16 201.14,378.16 201.79,378.15 202.44,378.15 203.08,378.15 203.73,378.15 204.38,378.15 205.02,378.14 205.67,378.14 206.32,378.14 206.96,378.14 207.61,378.14 208.25,378.13 208.90,378.13 209.55,378.13 210.19,378.13 210.84,378.13 211.49,378.13 212.13,378.12 212.78,378.12 213.43,378.12 214.07,378.12 214.72,378.12 215.37,378.12 216.01,378.12 216.66,378.11 217.31,378.11 217.95,378.11 218.60,378.11 219.24,378.11 219.89,378.11 220.54,378.11 221.18,378.11 221.83,378.11 222.48,378.10 223.12,378.10 223.77,378.10 224.42,378.10 225.06,378.10 225.71,378.10 226.36,378.10 227.00,378.10 227.65,378.10 228.30,378.10 228.94,378.10 229.59,378.10 230.24,378.09 230.88,378.09 231.53,378.09 232.17,378.09 232.82,378.09 233.47,378.09 234.11,378.09 234.76,378.09 235.41,378.09 236.05,378.09 236.70,378.09" fill="none" stroke="#000" stroke-width="2.6" stroke-dasharray="7.2 2.4" stroke-dashoffset="0" stroke-linejoin="round"/>
<polyline points="43.40,438.60 44.02,438.01 44.64,437.43 45.25,436.87 45.87,436.33 46.49,435.80 47.11,435.28 47.73,434.78 48.35,434.29 48.96,433.81 49.58,433.35 50.20,432.90 50.82,432.46 51.44,432.03 52.05,431.61 52.67,431.21 53.29,430.81 53.91,430.43 54.53,430.05 55.15,429.69 55.76,429.33 56.38,428.99 57.00,428.65 57.62,428.33 58.24,428.01 58.86,427.70 59.47,427.40 60.09,427.10 60.71,426.82 61.33,426.54 61.95,426.27 62.56,426.01 63.18,425.75 63.80,425.50 64.42,425.26 65.04,425.02 65.66,424.79 66.27,424.56 66.89,424.35 67.51,424.13 68.13,423.93 68.75,423.73 69.36,423.53 69.98,423.34 70.60,423.15 71.22,422.97 71.84,422.80 72.46,422.63 73.07,422.46 73.69,422.30 74.31,422.14 74.93,421.98 75.55,421.83 76.16,421.69 76.78,421.55 77.40,421.41 78.02,421.27 78.64,421.14 79.26,421.02 79.87,420.89 80.49,420.77 81.11,420.65 81.73,420.54 82.35,420.43 82.97,420.32 83.58,420.21 84.20,420.11 84.82,420.01 85.44,419.91 86.06,419.82 86.67,419.73 87.29,419.64 87.91,419.55 88.53,419.47 89.15,419.38 89.77,419.30 90.38,419.22 91.00,419.15 91.62,419.07 92.24,419.00 92.86,418.93 93.47,418.86 94.09,418.80 94.71,418.73 95.33,418.67 95.95,418.61 96.57,418.55 97.18,418.49 97.80,418.43 98.42,418.38 99.04,418.32 99.66,418.27 100.27,418.22 100.89,418.17 101.51,418.12 102.13,418.07 102.75,418.03 103.37,417.98 103.98,417.94 104.60,417.90 105.22,417.86 105.84,417.82 106.46,417.78 107.08,417.74 107.69,417.70 108.31,417.67 108.93,417.63 109.55,417.60 110.17,417.56 110.78,417.53 111.40,417.50 112.02,417.47 112.64,417.44 113.26,417.41 113.88,417.38 114.49,417.36 115.11,417.33 115.73,417.30 116.35,417.28 116.97,417.25 117.58,417.23 118.20,417.21 118.82,417.18 119.44,417.16 120.06,417.14 120.68,417.12 121.29,417.10 121.91,417.08 122.53,417.06 123.15,417.04 123.77,417.02 124.38,417.00 125.00,416.99 125.62,416.97 126.24,416.95 126.86,416.94 127.48,416.92 128.09,416.91 128.71,416.89 129.33,416.88 129.95,416.86 130.57,416.85 131.19,416.84 131.80,416.82 132.42,416.81 133.04,416.80 133.66,416.79 134.28,416.77 134.89,416.76 135.51,416.75 136.13,416.74 136.75,416.73 137.37,416.72 137.99,416.71 138.60,416.70 139.22,416.69 139.84,416.68 140.46,416.67 141.08,416.67 141.69,416.66 142.31,416.65 142.93,416.64 143.55,416.63 144.17,416.63 144.79,416.62 145.40,416.61 146.02,416.60 146.64,416.60 147.26,416.59 147.88,416.59 148.49,416.58 149.11,416.57 149.73,416.57 150.35,416.56 150.97,416.56 151.59,416.55 152.20,416.54 152.82,416.54 153.44,416.53 154.06,416.53 154.68,416.52 155.30,416.52 155.91,416.52 156.53,416.51 157.15,416.51 157.77,416.50 158.39,416.50 159.00,416.49 159.62,416.49 160.24,416.49 160.86,416.48 161.48,416.48 162.10,416.48 162.71,416.47 163.33,416.47 163.95,416.47 164.57,416.46 165.19,416.46 165.80,416.46 166.42,416.46 167.04,416.45 167.66,416.45 168.28,416.45 168.90,416.44 169.51,416.44 170.13,416.44 170.75,416.44 171.37,416.43 171.99,416.43 172.60,416.43 173.22,416.43 173.84,416.43 174.46,416.42 175.08,416.42 175.70,416.42 176.31,416.42 176.93,416.42 177.55,416.41 178.17,416.41 178.79,416.41 179.40,416.41 180.02,416.41 180.64,416.41 181.26,416.41 181.88,416.40 182.50,416.40 183.11,416.40 183.73,416.40 184.35,416.40 184.97,416.40 185.59,416.40 186.21,416.39 186.82,416.39 187.44,416.39 188.06,416.39 188.68,416.39 189.30,416.39 189.91,416.39 190.53,416.39 191.15,416.39 191.77,416.39 192.39,416.38 193.01,416.38 193.62,416.38 194.24,416.38 194.86,416.38 195.48,416.38 196.10,416.38 196.71,416.38 197.33,416.38 197.95,416.38 198.57,416.38 199.19,416.38 199.81,416.37 200.42,416.37 201.04,416.37 201.66,416.37 202.28,416.37 202.90,416.37 203.51,416.37 204.13,416.37 204.75,416.37 205.37,416.37 205.99,416.37 206.61,416.37 207.22,416.37 207.84,416.37 208.46,416.37 209.08,416.37 209.70,416.37 210.32,416.37 210.93,416.37 211.55,416.37 212.17,416.36 212.79,416.36 213.41,416.36 214.02,416.36 214.64,416.36 215.26,416.36 215.88,416.36 216.50,416.36 217.12,416.36 217.73,416.36 218.35,416.36 218.97,416.36 219.59,416.36 220.21,416.36 220.82,416.36 221.44,416.36 222.06,416.36 222.68,416.36 223.30,416.36 223.92,416.36 224.53,416.36 225.15,416.36 225.77,416.36 226.39,416.36 227.01,416.36 227.62,416.36 228.24,416.36" fill="none" stroke="#000" stroke-width="2.7" stroke-dasharray="20 5.5 4 5.5" stroke-dashoffset="14.76" stroke-linejoin="round"/>
<path d="M228.24 416.35H236.70" stroke="#333" stroke-width="0.7"/>
<text x="143.20" y="473.60" text-anchor="middle" font-family="DejaVu Sans, sans-serif" font-size="12.3" stroke="#000" stroke-width="0.5" textLength="124.5" lengthAdjust="spacingAndGlyphs">Hours post-infection</text>
<g font-family="Liberation Sans, sans-serif" font-size="12.85" stroke="#000" stroke-width="0.6" fill="#000">
<text transform="translate(21.60 448.40) rotate(-90)" textLength="67.96" lengthAdjust="spacingAndGlyphs">Normalized</text>
<text transform="translate(21.60 377.19) rotate(-90)" textLength="67.80" lengthAdjust="spacingAndGlyphs">expression</text>
<text transform="translate(21.60 306.24) rotate(-90)" textLength="28.89" lengthAdjust="spacingAndGlyphs">level</text>
</g>
<rect x="302.60" y="275.40" width="213.20" height="160.40" fill="#fff" stroke="#3a3a3a" stroke-width="0.8"/>
<path d="M349.98 435.80v-2.7M349.98 275.40v2.7M397.36 435.80v-2.7M397.36 275.40v2.7M444.73 435.80v-2.7M444.73 275.40v2.7M492.11 435.80v-2.7M492.11 275.40v2.7M302.60 409.07h2.7M515.80 409.07h-2.7M302.60 382.33h2.7M515.80 382.33h-2.7M302.60 355.60h2.7M515.80 355.60h-2.7M302.60 328.87h2.7M515.80 328.87h-2.7M302.60 302.13h2.7M515.80 302.13h-2.7" stroke="#3a3a3a" stroke-width="0.8" fill="none"/>
<g font-family="Liberation Sans, sans-serif" font-size="10.4" font-weight="normal" fill="#000" stroke="#000" stroke-width="0.65">
<text x="302.60" y="447.70" text-anchor="middle">0</text>
<text x="349.98" y="447.70" text-anchor="middle">2</text>
<text x="397.36" y="447.70" text-anchor="middle">4</text>
<text x="444.73" y="447.70" text-anchor="middle">6</text>
<text x="492.11" y="447.70" text-anchor="middle">8</text>
<text x="301.40" y="440.64" text-anchor="end">0</text>
<text x="301.40" y="413.91" text-anchor="end">0.2</text>
<text x="301.40" y="387.18" text-anchor="end">0.4</text>
<text x="301.40" y="360.44" text-anchor="end">0.6</text>
<text x="301.40" y="333.71" text-anchor="end">0.8</text>
<text x="301.40" y="306.98" text-anchor="end">1</text>
<text x="301.40" y="280.24" text-anchor="end">1.2</text>
</g>
<polyline points="302.60,435.80 303.55,435.80 304.50,435.80 305.46,435.80 306.41,435.80 307.36,435.80 308.31,435.80 309.27,435.80 310.22,435.80 311.17,435.80 312.12,435.80 313.08,435.80 314.03,435.80 314.98,435.80 315.93,435.80 316.88,435.80 317.84,435.80 318.79,435.80 319.74,435.80 320.69,435.80 321.65,435.80 322.60,435.80 323.55,435.80 324.50,435.80 325.46,435.80 326.41,435.80 327.36,435.80 328.31,435.80 329.26,435.80 330.22,435.80 331.17,435.80 332.12,435.80 333.07,435.80 334.03,435.80 334.98,435.80 335.93,435.80 336.88,435.80 337.84,435.80 338.79,435.80 339.74,435.80 340.69,435.80 341.65,435.80 342.60,435.80 343.55,435.80 344.50,435.80 345.45,435.80 346.41,435.80 347.36,435.80 348.31,435.80 349.26,435.80 350.22,435.80 351.17,435.74 352.12,435.63 353.07,435.49 354.03,435.28 354.98,434.96 355.93,434.54 356.88,434.03 357.83,433.44 358.79,432.78 359.74,432.03 360.69,431.22 361.64,430.35 362.60,429.43 363.55,428.45 364.50,427.43 365.45,426.37 366.41,425.28 367.36,423.89 368.31,422.11 369.26,420.07 370.21,417.88 371.17,415.66 372.12,413.55 373.07,411.66 374.02,409.91 374.98,408.19 375.93,406.51 376.88,404.86 377.83,403.24 378.79,401.64 379.74,400.06 380.69,398.51 381.64,396.97 382.59,395.44 383.55,393.93 384.50,392.45 385.45,390.99 386.40,389.57 387.36,388.17 388.31,386.80 389.26,385.47 390.21,384.16 391.17,382.88 392.12,381.61 393.07,380.35 394.02,379.10 394.97,377.86 395.93,376.61 396.88,375.35 397.83,374.08 398.78,372.79 399.74,371.50 400.69,370.20 401.64,368.90 402.59,367.60 403.55,366.31 404.50,365.02 405.45,363.75 406.40,362.50 407.35,361.26 408.31,360.05 409.26,358.87 410.21,357.71 411.16,356.56 412.12,355.43 413.07,354.31 414.02,353.20 414.97,352.11 415.93,351.03 416.88,349.97 417.83,348.91 418.78,347.87 419.74,346.84 420.69,345.82 421.64,344.81 422.59,343.79 423.54,342.77 424.50,341.75 425.45,340.72 426.40,339.70 427.35,338.68 428.31,337.66 429.26,336.65 430.21,335.64 431.16,334.65 432.12,333.66 433.07,332.69 434.02,331.73 434.97,330.78 435.92,329.85 436.88,328.94 437.83,328.05 438.78,327.18 439.73,326.33 440.69,325.51 441.64,324.71 442.59,323.94 443.54,323.20 444.50,322.49 445.45,321.80 446.40,321.12 447.35,320.44 448.30,319.77 449.26,319.10 450.21,318.44 451.16,317.78 452.11,317.14 453.07,316.51 454.02,315.89 454.97,315.28 455.92,314.68 456.88,314.11 457.83,313.55 458.78,313.00 459.73,312.48 460.68,311.98 461.64,311.50 462.59,311.04 463.54,310.61 464.49,310.20 465.45,309.82 466.40,309.47 467.35,309.14 468.30,308.85 469.26,308.58 470.21,308.31 471.16,308.03 472.11,307.77 473.06,307.50 474.02,307.24 474.97,306.99 475.92,306.74 476.87,306.50 477.83,306.26 478.78,306.04 479.73,305.82 480.68,305.61 481.64,305.42 482.59,305.24 483.54,305.07 484.49,304.91 485.44,304.77 486.40,304.65 487.35,304.54 488.30,304.45 489.25,304.37 490.21,304.32 491.16,304.29 492.11,304.27" fill="none" stroke="#000" stroke-width="2.8" stroke-linecap="butt" stroke-linejoin="round"/>
<polyline points="333.40,435.80 334.19,435.73 334.99,435.53 335.79,435.21 336.59,434.77 337.38,434.22 338.18,433.57 338.98,432.83 339.78,432.01 340.57,431.11 341.37,430.14 342.17,429.11 342.97,428.04 343.76,426.91 344.56,425.76 345.36,424.57 346.16,423.37 346.95,422.16 347.75,420.94 348.55,419.73 349.35,418.39 350.14,416.68 350.94,414.85 351.74,413.18 352.54,411.89 353.33,410.79 354.13,409.79 354.93,408.86 355.73,407.97 356.52,407.07 357.32,406.15 358.12,405.17 358.92,404.18 359.72,403.19 360.51,402.20 361.31,401.20 362.11,400.21 362.91,399.22 363.70,398.24 364.50,397.25 365.30,396.28 366.10,395.31 366.89,394.34 367.69,393.35 368.49,392.36 369.29,391.37 370.08,390.39 370.88,389.42 371.68,388.49 372.48,387.59 373.27,386.74 374.07,385.95 374.87,385.21 375.67,384.51 376.46,383.83 377.26,383.17 378.06,382.52 378.86,381.85 379.65,381.15 380.45,380.42 381.25,379.66 382.05,378.89 382.84,378.11 383.64,377.34 384.44,376.59 385.24,375.88 386.03,375.21 386.83,374.56 387.63,373.91 388.43,373.29 389.23,372.67 390.02,372.06 390.82,371.47 391.62,370.88 392.42,370.30 393.21,369.73 394.01,369.16 394.81,368.60 395.61,368.04 396.40,367.49 397.20,366.93 398.00,366.39 398.80,365.84 399.59,365.30 400.39,364.77 401.19,364.24 401.99,363.71 402.78,363.20 403.58,362.68 404.38,362.17 405.18,361.67 405.97,361.17 406.77,360.68 407.57,360.19 408.37,359.71 409.16,359.23 409.96,358.75 410.76,358.26 411.56,357.76 412.35,357.26 413.15,356.76 413.95,356.26 414.75,355.77 415.54,355.30 416.34,354.84 417.14,354.40 417.94,353.98 418.74,353.59 419.53,353.24 420.33,352.91 421.13,352.63 421.93,352.36 422.72,352.09 423.52,351.83 424.32,351.56 425.12,351.30 425.91,351.05 426.71,350.81 427.51,350.57 428.31,350.35 429.10,350.15 429.90,349.96 430.70,349.80 431.50,349.65 432.29,349.53 433.09,349.43 433.89,349.36 434.69,349.33 435.48,349.32 436.28,349.33 437.08,349.36 437.88,349.40 438.67,349.46 439.47,349.53 440.27,349.60 441.07,349.69 441.86,349.78 442.66,349.87 443.46,349.97 444.26,350.06 445.05,350.16 445.85,350.27 446.65,350.40 447.45,350.55 448.25,350.71 449.04,350.88 449.84,351.07 450.64,351.26 451.44,351.47 452.23,351.69 453.03,351.92 453.83,352.16 454.63,352.40 455.42,352.65 456.22,352.90 457.02,353.16 457.82,353.42 458.61,353.68 459.41,353.94 460.21,354.21 461.01,354.47 461.80,354.73 462.60,354.98 463.40,355.24 464.20,355.48 464.99,355.73 465.79,355.96 466.59,356.19 467.39,356.40 468.18,356.61 468.98,356.81 469.78,357.01 470.58,357.20 471.37,357.40 472.17,357.59 472.97,357.78 473.77,357.97 474.56,358.16 475.36,358.35 476.16,358.54 476.96,358.73 477.75,358.91 478.55,359.09 479.35,359.28 480.15,359.46 480.95,359.64 481.74,359.82 482.54,359.99 483.34,360.17 484.14,360.35 484.93,360.52 485.73,360.69 486.53,360.86 487.33,361.03 488.12,361.20 488.92,361.37 489.72,361.53 490.52,361.69 491.31,361.86 492.11,362.02" fill="none" stroke="#000" stroke-width="3.0" stroke-dasharray="10.5 3.8" stroke-linecap="butt" stroke-linejoin="round"/>
<polyline points="333.40,435.80 334.19,435.69 334.99,435.39 335.79,434.90 336.59,434.26 337.38,433.48 338.18,432.59 338.98,431.60 339.78,430.54 340.57,429.43 341.37,428.29 342.17,427.14 342.97,426.00 343.76,424.89 344.56,423.84 345.36,422.86 346.16,421.98 346.95,421.22 347.75,420.60 348.55,420.13 349.35,419.82 350.14,419.57 350.94,419.35 351.74,419.15 352.54,418.96 353.33,418.75 354.13,418.51 354.93,418.28 355.73,418.04 356.52,417.80 357.32,417.55 358.12,417.31 358.92,417.07 359.72,416.82 360.51,416.58 361.31,416.34 362.11,416.10 362.91,415.85 363.70,415.61 364.50,415.37 365.30,415.13 366.10,414.89 366.89,414.64 367.69,414.40 368.49,414.16 369.29,413.91 370.08,413.66 370.88,413.42 371.68,413.17 372.48,412.92 373.27,412.67 374.07,412.41 374.87,412.15 375.67,411.88 376.46,411.61 377.26,411.33 378.06,411.05 378.86,410.77 379.65,410.50 380.45,410.23 381.25,409.97 382.05,409.72 382.84,409.48 383.64,409.26 384.44,409.05 385.24,408.85 386.03,408.65 386.83,408.47 387.63,408.29 388.43,408.12 389.23,407.95 390.02,407.78 390.82,407.61 391.62,407.44 392.42,407.27 393.21,407.11 394.01,406.94 394.81,406.77 395.61,406.61 396.40,406.44 397.20,406.28 398.00,406.12 398.80,405.96 399.59,405.79 400.39,405.64 401.19,405.48 401.99,405.32 402.78,405.17 403.58,405.02 404.38,404.87 405.18,404.72 405.97,404.58 406.77,404.44 407.57,404.30 408.37,404.17 409.16,404.03 409.96,403.91 410.76,403.78 411.56,403.66 412.35,403.54 413.15,403.43 413.95,403.32 414.75,403.21 415.54,403.11 416.34,403.00 417.14,402.90 417.94,402.80 418.74,402.70 419.53,402.60 420.33,402.51 421.13,402.41 421.93,402.32 422.72,402.23 423.52,402.14 424.32,402.05 425.12,401.96 425.91,401.88 426.71,401.79 427.51,401.71 428.31,401.63 429.10,401.55 429.90,401.47 430.70,401.39 431.50,401.31 432.29,401.23 433.09,401.15 433.89,401.08 434.69,401.00 435.48,400.93 436.28,400.86 437.08,400.78 437.88,400.71 438.67,400.64 439.47,400.57 440.27,400.50 441.07,400.43 441.86,400.36 442.66,400.29 443.46,400.22 444.26,400.15 445.05,400.08 445.85,400.02 446.65,399.95 447.45,399.88 448.25,399.81 449.04,399.75 449.84,399.68 450.64,399.61 451.44,399.55 452.23,399.48 453.03,399.42 453.83,399.35 454.63,399.29 455.42,399.22 456.22,399.16 457.02,399.10 457.82,399.03 458.61,398.97 459.41,398.91 460.21,398.85 461.01,398.79 461.80,398.72 462.60,398.66 463.40,398.60 464.20,398.54 464.99,398.48 465.79,398.42 466.59,398.37 467.39,398.31 468.18,398.25 468.98,398.19 469.78,398.14 470.58,398.08 471.37,398.02 472.17,397.97 472.97,397.91 473.77,397.86 474.56,397.80 475.36,397.75 476.16,397.70 476.96,397.65 477.75,397.60 478.55,397.54 479.35,397.49 480.15,397.44 480.95,397.39 481.74,397.35 482.54,397.30 483.34,397.25 484.14,397.20 484.93,397.16 485.73,397.11 486.53,397.07 487.33,397.02 488.12,396.98 488.92,396.93 489.72,396.89 490.52,396.85 491.31,396.81 492.11,396.77" fill="none" stroke="#000" stroke-width="3.0" stroke-dasharray="20 5.5 4 5.5" stroke-dashoffset="18.66" stroke-linecap="butt" stroke-linejoin="round"/>
<path d="M373.67 407.86L376.67 413.46H370.67Z" fill="#8a8a8a" stroke="#555" stroke-width="0.8" stroke-linejoin="miter"/>
<path d="M397.36 370.70V400.78M395.16 370.70h4.4M395.16 400.78h4.4" stroke="#222" stroke-width="0.9" fill="none"/>
<path d="M397.36 378.32L400.36 383.92H394.36Z" fill="#8a8a8a" stroke="#555" stroke-width="0.8" stroke-linejoin="miter"/>
<path d="M421.04 297.72V356.00M418.84 297.72h4.4M418.84 356.00h4.4" stroke="#222" stroke-width="0.9" fill="none"/>
<path d="M421.04 321.38L424.04 326.98H418.04Z" fill="#8a8a8a" stroke="#555" stroke-width="0.8" stroke-linejoin="miter"/>
<path d="M444.73 365.62V373.64M442.53 365.62h4.4M442.53 373.64h4.4" stroke="#222" stroke-width="0.9" fill="none"/>
<path d="M444.73 366.56L447.73 372.15H441.73Z" fill="#8a8a8a" stroke="#555" stroke-width="0.8" stroke-linejoin="miter"/>
<path d="M492.11 376.72V388.35M489.91 376.72h4.4M489.91 388.35h4.4" stroke="#222" stroke-width="0.9" fill="none"/>
<path d="M492.11 379.12L495.11 384.72H489.11Z" fill="#8a8a8a" stroke="#555" stroke-width="0.8" stroke-linejoin="miter"/>
<path d="M302.60 430.95L305.80 436.85H299.40Z" fill="#fff" stroke="#111" stroke-width="0.9" stroke-linejoin="miter"/>
<path d="M326.29 430.95L329.49 436.85H323.09Z" fill="#fff" stroke="#111" stroke-width="0.9" stroke-linejoin="miter"/>
<path d="M349.98 430.95L353.18 436.85H346.78Z" fill="#fff" stroke="#111" stroke-width="0.9" stroke-linejoin="miter"/>
<path d="M373.67 412.94V426.44M371.47 412.94h4.4M371.47 426.44h4.4" stroke="#222" stroke-width="0.9" fill="none"/>
<path d="M373.67 417.72L376.87 423.62H370.47Z" fill="#fff" stroke="#111" stroke-width="0.9" stroke-linejoin="miter"/>
<path d="M397.36 383.23L400.56 389.13H394.16Z" fill="#fff" stroke="#111" stroke-width="0.9" stroke-linejoin="miter"/>
<path d="M421.04 294.11V327.53M418.84 294.11h4.4M418.84 327.53h4.4" stroke="#222" stroke-width="0.9" fill="none"/>
<path d="M421.04 307.58L424.24 313.48H417.84Z" fill="#fff" stroke="#111" stroke-width="0.9" stroke-linejoin="miter"/>
<path d="M444.73 305.48V373.64M442.53 305.48h4.4M442.53 373.64h4.4" stroke="#222" stroke-width="0.9" fill="none"/>
<path d="M444.73 336.31L447.93 342.21H441.53Z" fill="#fff" stroke="#111" stroke-width="0.9" stroke-linejoin="miter"/>
<path d="M492.11 305.44L495.31 311.34H488.91Z" fill="#fff" stroke="#111" stroke-width="0.9" stroke-linejoin="miter"/>
<path d="M349.98 422.30L353.78 429.10H346.18Z" fill="#000" stroke="#000" stroke-width="0.8" stroke-linejoin="miter"/>
<path d="M373.67 383.94V402.92M371.47 383.94h4.4M371.47 402.92h4.4" stroke="#222" stroke-width="0.9" fill="none"/>
<path d="M373.67 391.16L377.47 397.96H369.87Z" fill="#000" stroke="#000" stroke-width="0.8" stroke-linejoin="miter"/>
<path d="M397.36 387.41V400.78M395.16 387.41h4.4M395.16 400.78h4.4" stroke="#222" stroke-width="0.9" fill="none"/>
<path d="M397.36 390.36L401.16 397.16H393.56Z" fill="#000" stroke="#000" stroke-width="0.8" stroke-linejoin="miter"/>
<path d="M421.04 395.70L424.84 402.50H417.24Z" fill="#000" stroke="#000" stroke-width="0.8" stroke-linejoin="miter"/>
<path d="M444.73 397.44L448.53 404.24H440.93Z" fill="#000" stroke="#000" stroke-width="0.8" stroke-linejoin="miter"/>
<path d="M492.11 418.69L495.91 425.49H488.31Z" fill="#000" stroke="#000" stroke-width="0.8" stroke-linejoin="miter"/>
<text x="404.40" y="473.90" text-anchor="middle" font-family="DejaVu Sans, sans-serif" font-size="12.3" stroke="#000" stroke-width="0.5" textLength="124.5" lengthAdjust="spacingAndGlyphs">Hours post-infection</text>
<g font-family="Liberation Sans, sans-serif" font-size="12.85" stroke="#000" stroke-width="0.6" fill="#000">
<text transform="translate(276.40 449.30) rotate(-90)" textLength="67.96" lengthAdjust="spacingAndGlyphs">Normalized</text>
<text transform="translate(276.40 378.09) rotate(-90)" textLength="67.80" lengthAdjust="spacingAndGlyphs">expression</text>
<text transform="translate(276.40 307.14) rotate(-90)" textLength="28.89" lengthAdjust="spacingAndGlyphs">level</text>
</g>
<rect x="567.90" y="279.50" width="209.70" height="159.10" fill="#fff" stroke="#3a3a3a" stroke-width="0.8"/>
<path d="M614.50 438.60v-2.7M614.50 279.50v2.7M661.10 438.60v-2.7M661.10 279.50v2.7M707.70 438.60v-2.7M707.70 279.50v2.7M754.30 438.60v-2.7M754.30 279.50v2.7M567.90 412.08h2.7M777.60 412.08h-2.7M567.90 385.57h2.7M777.60 385.57h-2.7M567.90 359.05h2.7M777.60 359.05h-2.7M567.90 332.53h2.7M777.60 332.53h-2.7M567.90 306.02h2.7M777.60 306.02h-2.7" stroke="#3a3a3a" stroke-width="0.8" fill="none"/>
<g font-family="Liberation Sans, sans-serif" font-size="10.4" font-weight="normal" fill="#000" stroke="#000" stroke-width="0.65">
<text x="567.90" y="450.60" text-anchor="middle">0</text>
<text x="614.50" y="450.60" text-anchor="middle">2</text>
<text x="661.10" y="450.60" text-anchor="middle">4</text>
<text x="707.70" y="450.60" text-anchor="middle">6</text>
<text x="754.30" y="450.60" text-anchor="middle">8</text>
<text x="566.50" y="442.64" text-anchor="end">0</text>
<text x="566.50" y="416.13" text-anchor="end">0.2</text>
<text x="566.50" y="389.61" text-anchor="end">0.4</text>
<text x="566.50" y="363.09" text-anchor="end">0.6</text>
<text x="566.50" y="336.58" text-anchor="end">0.8</text>
<text x="566.50" y="310.06" text-anchor="end">1</text>
<text x="566.50" y="283.54" text-anchor="end">1.2</text>
</g>
<polyline points="567.90,438.60 568.84,438.60 569.77,438.60 570.71,438.60 571.65,438.60 572.58,438.60 573.52,438.60 574.46,438.60 575.39,438.60 576.33,438.60 577.27,438.60 578.20,438.60 579.14,438.60 580.08,438.60 581.01,438.60 581.95,438.60 582.89,438.60 583.82,438.60 584.76,438.60 585.70,438.60 586.63,438.60 587.57,438.60 588.51,438.60 589.44,438.60 590.38,438.60 591.32,438.60 592.25,438.60 593.19,438.60 594.13,438.60 595.06,438.60 596.00,438.60 596.94,438.57 597.87,438.52 598.81,438.43 599.75,438.33 600.68,438.21 601.62,438.05 602.56,437.79 603.49,437.44 604.43,437.00 605.37,436.48 606.30,435.89 607.24,435.23 608.18,434.50 609.11,433.71 610.05,432.87 610.99,431.97 611.92,431.03 612.86,430.06 613.80,429.04 614.73,427.95 615.67,426.52 616.61,424.78 617.54,422.81 618.48,420.71 619.42,418.56 620.35,416.44 621.29,414.44 622.23,412.42 623.16,410.34 624.10,408.24 625.04,406.13 625.97,404.04 626.91,401.99 627.85,400.01 628.78,398.07 629.72,396.14 630.66,394.23 631.59,392.35 632.53,390.54 633.47,388.79 634.40,387.12 635.34,385.57 636.28,384.12 637.21,382.73 638.15,381.36 639.09,379.95 640.02,378.46 640.96,376.88 641.90,375.24 642.83,373.57 643.77,371.92 644.71,370.31 645.64,368.77 646.58,367.22 647.52,365.67 648.45,364.12 649.39,362.58 650.33,361.05 651.26,359.53 652.20,358.03 653.14,356.54 654.07,355.07 655.01,353.63 655.95,352.22 656.88,350.85 657.82,349.50 658.76,348.20 659.69,346.94 660.63,345.72 661.57,344.55 662.51,343.42 663.44,342.34 664.38,341.29 665.32,340.27 666.25,339.29 667.19,338.34 668.13,337.41 669.06,336.52 670.00,335.64 670.94,334.77 671.87,333.91 672.81,333.07 673.75,332.24 674.68,331.43 675.62,330.63 676.56,329.85 677.49,329.08 678.43,328.33 679.37,327.59 680.30,326.87 681.24,326.17 682.18,325.48 683.11,324.81 684.05,324.16 684.99,323.52 685.92,322.88 686.86,322.25 687.80,321.61 688.73,320.99 689.67,320.36 690.61,319.75 691.54,319.14 692.48,318.54 693.42,317.94 694.35,317.36 695.29,316.79 696.23,316.23 697.16,315.68 698.10,315.14 699.04,314.62 699.97,314.12 700.91,313.63 701.85,313.16 702.78,312.70 703.72,312.27 704.66,311.85 705.59,311.46 706.53,311.09 707.47,310.74 708.40,310.41 709.34,310.09 710.28,309.78 711.21,309.47 712.15,309.17 713.09,308.88 714.02,308.60 714.96,308.33 715.90,308.06 716.83,307.80 717.77,307.55 718.71,307.30 719.64,307.06 720.58,306.83 721.52,306.60 722.45,306.39 723.39,306.17 724.33,305.97 725.26,305.77 726.20,305.58 727.14,305.39 728.07,305.21 729.01,305.04 729.95,304.87 730.88,304.71 731.82,304.55 732.76,304.40 733.69,304.25 734.63,304.09 735.57,303.95 736.50,303.80 737.44,303.66 738.38,303.51 739.31,303.38 740.25,303.24 741.19,303.11 742.12,302.99 743.06,302.86 744.00,302.74 744.93,302.63 745.87,302.52 746.81,302.42 747.74,302.32 748.68,302.22 749.62,302.13 750.55,302.05 751.49,301.97 752.43,301.90 753.36,301.83 754.30,301.77" fill="none" stroke="#000" stroke-width="2.8" stroke-linecap="butt" stroke-linejoin="round"/>
<polyline points="591.20,438.60 592.02,438.50 592.84,438.21 593.66,437.74 594.48,437.13 595.30,436.40 596.12,435.55 596.94,434.62 597.76,433.63 598.58,432.59 599.40,431.53 600.22,430.46 601.04,429.41 601.85,428.41 602.67,427.46 603.49,426.59 604.31,425.80 605.13,425.04 605.95,424.31 606.77,423.58 607.59,422.84 608.41,422.07 609.23,421.24 610.05,420.35 610.87,419.38 611.69,418.31 612.51,416.99 613.33,415.42 614.15,413.66 614.97,411.80 615.79,409.92 616.61,408.09 617.43,406.38 618.25,404.89 619.07,403.54 619.89,402.22 620.71,400.94 621.53,399.70 622.34,398.52 623.16,397.38 623.98,396.30 624.80,395.28 625.62,394.34 626.44,393.46 627.26,392.65 628.08,391.89 628.90,391.19 629.72,390.52 630.54,389.88 631.36,389.28 632.18,388.69 633.00,388.12 633.82,387.55 634.64,386.98 635.46,386.41 636.28,385.83 637.10,385.22 637.92,384.59 638.74,383.93 639.56,383.22 640.38,382.46 641.20,381.61 642.02,380.70 642.83,379.78 643.65,378.90 644.47,378.09 645.29,377.39 646.11,376.75 646.93,376.12 647.75,375.52 648.57,374.93 649.39,374.36 650.21,373.81 651.03,373.28 651.85,372.76 652.67,372.25 653.49,371.76 654.31,371.28 655.13,370.81 655.95,370.35 656.77,369.91 657.59,369.47 658.41,369.04 659.23,368.61 660.05,368.20 660.87,367.78 661.69,367.38 662.51,366.99 663.32,366.62 664.14,366.25 664.96,365.90 665.78,365.56 666.60,365.22 667.42,364.89 668.24,364.57 669.06,364.25 669.88,363.92 670.70,363.59 671.52,363.26 672.34,362.92 673.16,362.59 673.98,362.25 674.80,361.92 675.62,361.60 676.44,361.28 677.26,360.97 678.08,360.67 678.90,360.39 679.72,360.12 680.54,359.86 681.36,359.62 682.18,359.40 682.99,359.20 683.81,359.03 684.63,358.88 685.45,358.73 686.27,358.59 687.09,358.45 687.91,358.31 688.73,358.17 689.55,358.04 690.37,357.91 691.19,357.78 692.01,357.66 692.83,357.54 693.65,357.42 694.47,357.31 695.29,357.20 696.11,357.10 696.93,357.00 697.75,356.91 698.57,356.82 699.39,356.74 700.21,356.66 701.03,356.59 701.85,356.52 702.67,356.47 703.48,356.41 704.30,356.37 705.12,356.33 705.94,356.30 706.76,356.28 707.58,356.27 708.40,356.26 709.22,356.25 710.04,356.24 710.86,356.23 711.68,356.23 712.50,356.22 713.32,356.21 714.14,356.20 714.96,356.20 715.78,356.19 716.60,356.19 717.42,356.18 718.24,356.17 719.06,356.17 719.88,356.16 720.70,356.16 721.52,356.16 722.34,356.15 723.16,356.15 723.97,356.15 724.79,356.14 725.61,356.14 726.43,356.14 727.25,356.14 728.07,356.14 728.89,356.13 729.71,356.13 730.53,356.13 731.35,356.13 732.17,356.13 732.99,356.13 733.81,356.13 734.63,356.13 735.45,356.13 736.27,356.13 737.09,356.13 737.91,356.13 738.73,356.13 739.55,356.13 740.37,356.13 741.19,356.13 742.01,356.13 742.83,356.13 743.65,356.13 744.46,356.13 745.28,356.13 746.10,356.13 746.92,356.13 747.74,356.13 748.56,356.13 749.38,356.13 750.20,356.13 751.02,356.13 751.84,356.13 752.66,356.13 753.48,356.13 754.30,356.13" fill="none" stroke="#000" stroke-width="3.0" stroke-dasharray="10.5 3.8" stroke-linecap="butt" stroke-linejoin="round"/>
<polyline points="591.20,438.60 592.00,438.54 592.79,438.36 593.59,438.08 594.38,437.69 595.18,437.22 595.98,436.67 596.77,436.04 597.57,435.35 598.37,434.61 599.16,433.82 599.96,432.99 600.75,432.13 601.55,431.26 602.35,430.37 603.14,429.48 603.94,428.60 604.74,427.73 605.53,426.88 606.33,426.07 607.12,425.30 607.92,424.58 608.72,423.92 609.51,423.33 610.31,422.81 611.10,422.38 611.90,421.98 612.70,421.60 613.49,421.23 614.29,420.87 615.09,420.52 615.88,420.18 616.68,419.85 617.47,419.53 618.27,419.23 619.07,418.93 619.86,418.65 620.66,418.38 621.45,418.13 622.25,417.88 623.05,417.65 623.84,417.44 624.64,417.23 625.44,417.05 626.23,416.87 627.03,416.71 627.82,416.55 628.62,416.41 629.42,416.27 630.21,416.14 631.01,416.02 631.81,415.91 632.60,415.79 633.40,415.68 634.19,415.58 634.99,415.47 635.79,415.37 636.58,415.26 637.38,415.15 638.17,415.04 638.97,414.92 639.77,414.80 640.56,414.67 641.36,414.54 642.16,414.39 642.95,414.24 643.75,414.08 644.54,413.91 645.34,413.73 646.14,413.54 646.93,413.35 647.73,413.15 648.53,412.95 649.32,412.74 650.12,412.54 650.91,412.32 651.71,412.11 652.51,411.90 653.30,411.69 654.10,411.48 654.89,411.27 655.69,411.07 656.49,410.87 657.28,410.67 658.08,410.48 658.88,410.30 659.67,410.12 660.47,409.96 661.26,409.80 662.06,409.64 662.86,409.48 663.65,409.33 664.45,409.18 665.24,409.04 666.04,408.91 666.84,408.79 667.63,408.69 668.43,408.60 669.23,408.52 670.02,408.44 670.82,408.36 671.61,408.29 672.41,408.22 673.21,408.14 674.00,408.07 674.80,408.01 675.60,407.94 676.39,407.87 677.19,407.81 677.98,407.75 678.78,407.69 679.58,407.63 680.37,407.57 681.17,407.52 681.96,407.46 682.76,407.41 683.56,407.35 684.35,407.30 685.15,407.25 685.95,407.20 686.74,407.15 687.54,407.11 688.33,407.06 689.13,407.02 689.93,406.97 690.72,406.93 691.52,406.88 692.31,406.84 693.11,406.80 693.91,406.76 694.70,406.72 695.50,406.68 696.30,406.64 697.09,406.60 697.89,406.56 698.68,406.53 699.48,406.49 700.28,406.45 701.07,406.42 701.87,406.38 702.67,406.34 703.46,406.31 704.26,406.27 705.05,406.24 705.85,406.20 706.65,406.16 707.44,406.13 708.24,406.09 709.03,406.06 709.83,406.02 710.63,405.99 711.42,405.95 712.22,405.92 713.02,405.88 713.81,405.85 714.61,405.81 715.40,405.78 716.20,405.75 717.00,405.71 717.79,405.68 718.59,405.65 719.39,405.61 720.18,405.58 720.98,405.55 721.77,405.52 722.57,405.49 723.37,405.45 724.16,405.42 724.96,405.39 725.75,405.36 726.55,405.33 727.35,405.30 728.14,405.28 728.94,405.25 729.74,405.22 730.53,405.19 731.33,405.16 732.12,405.14 732.92,405.11 733.72,405.08 734.51,405.06 735.31,405.03 736.10,405.01 736.90,404.98 737.70,404.96 738.49,404.93 739.29,404.91 740.09,404.89 740.88,404.87 741.68,404.85 742.47,404.82 743.27,404.80 744.07,404.78 744.86,404.76 745.66,404.75 746.46,404.73 747.25,404.71 748.05,404.69 748.84,404.67 749.64,404.66" fill="none" stroke="#000" stroke-width="3.0" stroke-dasharray="20 5.5 4 5.5" stroke-dashoffset="2.86" stroke-linecap="butt" stroke-linejoin="round"/>
<path d="M591.20 428.78L595.20 435.78H587.20Z" fill="#8a8a8a" stroke="#555" stroke-width="0.8" stroke-linejoin="miter"/>
<path d="M637.80 384.37V426.80M635.60 384.37h4.4M635.60 426.80h4.4" stroke="#222" stroke-width="0.9" fill="none"/>
<path d="M637.80 401.74L641.80 408.74H633.80Z" fill="#8a8a8a" stroke="#555" stroke-width="0.8" stroke-linejoin="miter"/>
<path d="M661.10 375.36V385.96M658.90 375.36h4.4M658.90 385.96h4.4" stroke="#222" stroke-width="0.9" fill="none"/>
<path d="M661.10 376.81L665.10 383.81H657.10Z" fill="#8a8a8a" stroke="#555" stroke-width="0.8" stroke-linejoin="miter"/>
<path d="M684.40 285.86V346.85M682.20 285.86h4.4M682.20 346.85h4.4" stroke="#222" stroke-width="0.9" fill="none"/>
<path d="M684.40 313.17L688.40 320.17H680.40Z" fill="#8a8a8a" stroke="#555" stroke-width="0.8" stroke-linejoin="miter"/>
<path d="M707.70 345.53V364.75M705.50 345.53h4.4M705.50 364.75h4.4" stroke="#222" stroke-width="0.9" fill="none"/>
<path d="M707.70 351.36L711.70 358.36H703.70Z" fill="#8a8a8a" stroke="#555" stroke-width="0.8" stroke-linejoin="miter"/>
<path d="M754.30 370.45V394.32M752.10 370.45h4.4M752.10 394.32h4.4" stroke="#222" stroke-width="0.9" fill="none"/>
<path d="M754.30 378.00L758.30 385.00H750.30Z" fill="#8a8a8a" stroke="#555" stroke-width="0.8" stroke-linejoin="miter"/>
<path d="M567.90 426.39L571.20 432.19H564.60Z" fill="#fff" stroke="#111" stroke-width="0.9" stroke-linejoin="miter"/>
<path d="M591.20 425.61V431.44M589.00 425.61h4.4M589.00 431.44h4.4" stroke="#222" stroke-width="0.9" fill="none"/>
<path d="M591.20 425.60L594.50 431.40H587.90Z" fill="#fff" stroke="#111" stroke-width="0.9" stroke-linejoin="miter"/>
<path d="M614.50 427.85L617.80 433.65H611.20Z" fill="#fff" stroke="#111" stroke-width="0.9" stroke-linejoin="miter"/>
<path d="M637.80 389.41V399.75M635.60 389.41h4.4M635.60 399.75h4.4" stroke="#222" stroke-width="0.9" fill="none"/>
<path d="M637.80 392.59L641.10 398.39H634.50Z" fill="#fff" stroke="#111" stroke-width="0.9" stroke-linejoin="miter"/>
<path d="M661.10 331.07L664.40 336.87H657.80Z" fill="#fff" stroke="#111" stroke-width="0.9" stroke-linejoin="miter"/>
<path d="M684.40 281.36V317.15M682.20 281.36h4.4M682.20 317.15h4.4" stroke="#222" stroke-width="0.9" fill="none"/>
<path d="M684.40 296.06L687.70 301.86H681.10Z" fill="#fff" stroke="#111" stroke-width="0.9" stroke-linejoin="miter"/>
<path d="M707.70 316.35L711.00 322.15H704.40Z" fill="#fff" stroke="#111" stroke-width="0.9" stroke-linejoin="miter"/>
<path d="M754.30 309.99V334.79M752.10 309.99h4.4M752.10 334.79h4.4" stroke="#222" stroke-width="0.9" fill="none"/>
<path d="M754.30 318.87L757.60 324.67H751.00Z" fill="#fff" stroke="#111" stroke-width="0.9" stroke-linejoin="miter"/>
<path d="M591.20 432.54L595.40 438.74H587.00Z" fill="#000" stroke="#000" stroke-width="0.8" stroke-linejoin="miter"/>
<path d="M661.10 400.72L665.30 406.92H656.90Z" fill="#000" stroke="#000" stroke-width="0.8" stroke-linejoin="miter"/>
<path d="M684.40 406.95L688.60 413.15H680.20Z" fill="#000" stroke="#000" stroke-width="0.8" stroke-linejoin="miter"/>
<path d="M707.70 418.35L711.90 424.55H703.50Z" fill="#000" stroke="#000" stroke-width="0.8" stroke-linejoin="miter"/>
<path d="M754.30 422.99L758.50 429.19H750.10Z" fill="#000" stroke="#000" stroke-width="0.8" stroke-linejoin="miter"/>
<text x="668.20" y="467.30" text-anchor="middle" font-family="DejaVu Sans, sans-serif" font-size="12.3" stroke="#000" stroke-width="0.3" textLength="124.5" lengthAdjust="spacingAndGlyphs">Hours post-infection</text>
<g font-family="Liberation Sans, sans-serif" font-size="12.85" stroke="#000" stroke-width="0.6" fill="#000">
<text transform="translate(546.60 442.80) rotate(-90)" textLength="67.96" lengthAdjust="spacingAndGlyphs">Normalized</text>
<text transform="translate(546.60 371.59) rotate(-90)" textLength="67.80" lengthAdjust="spacingAndGlyphs">expression</text>
<text transform="translate(546.60 300.64) rotate(-90)" textLength="28.89" lengthAdjust="spacingAndGlyphs">level</text>
</g>
</g>
</svg></body></html>
